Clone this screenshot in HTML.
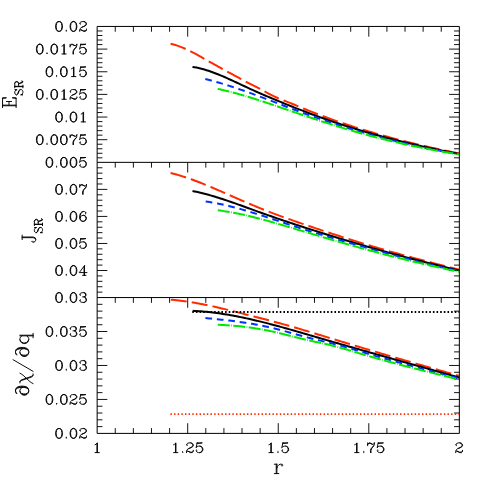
<!DOCTYPE html>
<html><head><meta charset="utf-8"><title>chart</title>
<style>html,body{margin:0;padding:0;background:#fff;font-family:"Liberation Serif",serif;overflow:hidden}svg{display:block;position:absolute;left:0;top:0}</style></head>
<body>
<svg width="485" height="485" viewBox="0 0 485 485">
<rect width="485" height="485" fill="#fff"/>
<path d="M97.15 157.82h5.3M459.35 157.82h-5.3 M97.15 153.29h5.3M459.35 153.29h-5.3 M97.15 148.76h5.3M459.35 148.76h-5.3 M97.15 144.23h5.3M459.35 144.23h-5.3 M97.15 139.7h10.2M459.35 139.7h-10.2 M97.15 135.17h5.3M459.35 135.17h-5.3 M97.15 130.64h5.3M459.35 130.64h-5.3 M97.15 126.11h5.3M459.35 126.11h-5.3 M97.15 121.58h5.3M459.35 121.58h-5.3 M97.15 117.05h10.2M459.35 117.05h-10.2 M97.15 112.52h5.3M459.35 112.52h-5.3 M97.15 107.99h5.3M459.35 107.99h-5.3 M97.15 103.46h5.3M459.35 103.46h-5.3 M97.15 98.93h5.3M459.35 98.93h-5.3 M97.15 94.4h10.2M459.35 94.4h-10.2 M97.15 89.87h5.3M459.35 89.87h-5.3 M97.15 85.34h5.3M459.35 85.34h-5.3 M97.15 80.81h5.3M459.35 80.81h-5.3 M97.15 76.28h5.3M459.35 76.28h-5.3 M97.15 71.75h10.2M459.35 71.75h-10.2 M97.15 67.22h5.3M459.35 67.22h-5.3 M97.15 62.69h5.3M459.35 62.69h-5.3 M97.15 58.16h5.3M459.35 58.16h-5.3 M97.15 53.63h5.3M459.35 53.63h-5.3 M97.15 49.1h10.2M459.35 49.1h-10.2 M97.15 44.57h5.3M459.35 44.57h-5.3 M97.15 40.04h5.3M459.35 40.04h-5.3 M97.15 35.51h5.3M459.35 35.51h-5.3 M97.15 30.98h5.3M459.35 30.98h-5.3 M97.15 292.14h5.3M459.35 292.14h-5.3 M97.15 286.73h5.3M459.35 286.73h-5.3 M97.15 281.33h5.3M459.35 281.33h-5.3 M97.15 275.92h5.3M459.35 275.92h-5.3 M97.15 270.51h10.2M459.35 270.51h-10.2 M97.15 265.1h5.3M459.35 265.1h-5.3 M97.15 259.69h5.3M459.35 259.69h-5.3 M97.15 254.29h5.3M459.35 254.29h-5.3 M97.15 248.88h5.3M459.35 248.88h-5.3 M97.15 243.47h10.2M459.35 243.47h-10.2 M97.15 238.06h5.3M459.35 238.06h-5.3 M97.15 232.65h5.3M459.35 232.65h-5.3 M97.15 227.25h5.3M459.35 227.25h-5.3 M97.15 221.84h5.3M459.35 221.84h-5.3 M97.15 216.43h10.2M459.35 216.43h-10.2 M97.15 211.02h5.3M459.35 211.02h-5.3 M97.15 205.61h5.3M459.35 205.61h-5.3 M97.15 200.21h5.3M459.35 200.21h-5.3 M97.15 194.8h5.3M459.35 194.8h-5.3 M97.15 189.39h10.2M459.35 189.39h-10.2 M97.15 183.98h5.3M459.35 183.98h-5.3 M97.15 178.57h5.3M459.35 178.57h-5.3 M97.15 173.17h5.3M459.35 173.17h-5.3 M97.15 167.76h5.3M459.35 167.76h-5.3 M97.15 426.61h5.3M459.35 426.61h-5.3 M97.15 419.81h5.3M459.35 419.81h-5.3 M97.15 413.02h5.3M459.35 413.02h-5.3 M97.15 406.23h5.3M459.35 406.23h-5.3 M97.15 399.44h10.2M459.35 399.44h-10.2 M97.15 392.64h5.3M459.35 392.64h-5.3 M97.15 385.85h5.3M459.35 385.85h-5.3 M97.15 379.06h5.3M459.35 379.06h-5.3 M97.15 372.27h5.3M459.35 372.27h-5.3 M97.15 365.48h10.2M459.35 365.48h-10.2 M97.15 358.68h5.3M459.35 358.68h-5.3 M97.15 351.89h5.3M459.35 351.89h-5.3 M97.15 345.1h5.3M459.35 345.1h-5.3 M97.15 338.31h5.3M459.35 338.31h-5.3 M97.15 331.51h10.2M459.35 331.51h-10.2 M97.15 324.72h5.3M459.35 324.72h-5.3 M97.15 317.93h5.3M459.35 317.93h-5.3 M97.15 311.13h5.3M459.35 311.13h-5.3 M97.15 304.34h5.3M459.35 304.34h-5.3 M115.26 26.45v5.3 M115.26 162.35v5.3 M115.26 297.55v5.3 M115.26 433.4v-5.3 M133.37 26.45v5.3 M133.37 162.35v5.3 M133.37 297.55v5.3 M133.37 433.4v-5.3 M151.48 26.45v5.3 M151.48 162.35v5.3 M151.48 297.55v5.3 M151.48 433.4v-5.3 M169.59 26.45v5.3 M169.59 162.35v5.3 M169.59 297.55v5.3 M169.59 433.4v-5.3 M187.7 26.45v10.2 M187.7 162.35v10.2 M187.7 297.55v10.2 M187.7 433.4v-10.2 M205.81 26.45v5.3 M205.81 162.35v5.3 M205.81 297.55v5.3 M205.81 433.4v-5.3 M223.92 26.45v5.3 M223.92 162.35v5.3 M223.92 297.55v5.3 M223.92 433.4v-5.3 M242.03 26.45v5.3 M242.03 162.35v5.3 M242.03 297.55v5.3 M242.03 433.4v-5.3 M260.14 26.45v5.3 M260.14 162.35v5.3 M260.14 297.55v5.3 M260.14 433.4v-5.3 M278.25 26.45v10.2 M278.25 162.35v10.2 M278.25 297.55v10.2 M278.25 433.4v-10.2 M296.36 26.45v5.3 M296.36 162.35v5.3 M296.36 297.55v5.3 M296.36 433.4v-5.3 M314.47 26.45v5.3 M314.47 162.35v5.3 M314.47 297.55v5.3 M314.47 433.4v-5.3 M332.58 26.45v5.3 M332.58 162.35v5.3 M332.58 297.55v5.3 M332.58 433.4v-5.3 M350.69 26.45v5.3 M350.69 162.35v5.3 M350.69 297.55v5.3 M350.69 433.4v-5.3 M368.8 26.45v10.2 M368.8 162.35v10.2 M368.8 297.55v10.2 M368.8 433.4v-10.2 M386.91 26.45v5.3 M386.91 162.35v5.3 M386.91 297.55v5.3 M386.91 433.4v-5.3 M405.02 26.45v5.3 M405.02 162.35v5.3 M405.02 297.55v5.3 M405.02 433.4v-5.3 M423.13 26.45v5.3 M423.13 162.35v5.3 M423.13 297.55v5.3 M423.13 433.4v-5.3 M441.24 26.45v5.3 M441.24 162.35v5.3 M441.24 297.55v5.3 M441.24 433.4v-5.3" stroke="#000" stroke-width="0.92" fill="none"/>
<path d="M97.15 26.45H459.35V433.4H97.15Z M97.15 162.35H459.35 M97.15 297.55H459.35" stroke="#000" stroke-width="1" fill="none" stroke-linejoin="round"/>
<clipPath id="c1"><rect x="97.15" y="26.45" width="362.20000000000005" height="135.9"/></clipPath>
<g clip-path="url(#c1)" fill="none" stroke-width="2.0">
<path d="M170.6 43.69 L172.6 44.19 L174.6 44.76 L176.6 45.4 L178.6 46.1 L180.6 46.85 L182.6 47.66 L184.6 48.52 L186.6 49.43 L188.6 50.37 L190.6 51.35 L192.6 52.37 L194.6 53.42 L196.6 54.49 L198.6 55.58 L200.6 56.69 L202.6 57.81 L204.6 58.94 L206.6 60.08 L208.6 61.21 L210.6 62.35 L212.6 63.48 L214.6 64.61 L216.6 65.73 L218.6 66.84 L220.6 67.95 L222.6 69.06 L224.6 70.15 L226.6 71.24 L228.6 72.32 L230.6 73.39 L232.6 74.46 L234.6 75.53 L236.6 76.61 L238.6 77.7 L240.6 78.8 L242.6 79.91 L244.6 81.03 L246.6 82.11 L248.6 83.14 L250.6 84.14 L252.6 85.11 L254.6 86.08 L256.6 87.06 L258.6 88.06 L260.6 89.12 L262.6 90.23 L264.6 91.36 L266.6 92.5 L268.6 93.61 L270.6 94.67 L272.6 95.67 L274.6 96.62 L276.6 97.51 L278.6 98.37 L280.6 99.19 L282.6 99.99 L284.6 100.78 L286.6 101.56 L288.6 102.35 L290.6 103.14 L292.6 103.96 L294.6 104.78 L296.6 105.62 L298.6 106.46 L300.6 107.29 L302.6 108.13 L304.6 108.95 L306.6 109.77 L308.6 110.57 L310.6 111.37 L312.6 112.17 L314.6 112.95 L316.6 113.73 L318.6 114.49 L320.6 115.26 L322.6 116.01 L324.6 116.75 L326.6 117.49 L328.6 118.22 L330.6 118.95 L332.6 119.66 L334.6 120.37 L336.6 121.07 L338.6 121.77 L340.6 122.46 L342.6 123.14 L344.6 123.81 L346.6 124.48 L348.6 125.14 L350.6 125.8 L352.6 126.44 L354.6 127.08 L356.6 127.72 L358.6 128.35 L360.6 128.97 L362.6 129.59 L364.6 130.2 L366.6 130.8 L368.6 131.4 L370.6 131.99 L372.6 132.58 L374.6 133.16 L376.6 133.74 L378.6 134.31 L380.6 134.87 L382.6 135.43 L384.6 135.98 L386.6 136.53 L388.6 137.08 L390.6 137.61 L392.6 138.15 L394.6 138.68 L396.6 139.2 L398.6 139.72 L400.6 140.23 L402.6 140.74 L404.6 141.24 L406.6 141.74 L408.6 142.24 L410.6 142.73 L412.6 143.22 L414.6 143.7 L416.6 144.18 L418.6 144.65 L420.6 145.12 L422.6 145.59 L424.6 146.05 L426.6 146.51 L428.6 146.97 L430.6 147.42 L432.6 147.86 L434.6 148.31 L436.6 148.75 L438.6 149.19 L440.6 149.62 L442.6 150.05 L444.6 150.48 L446.6 150.9 L448.6 151.33 L450.6 151.75 L452.6 152.16 L454.6 152.57 L456.6 152.99 L458.6 153.39 L459.3 153.54" stroke="#ff2a00" stroke-dasharray="16 5.1"/>
<path d="M192.5 66.9 L194.5 67.22 L196.5 67.6 L198.5 68.03 L200.5 68.5 L202.5 69.02 L204.5 69.58 L206.5 70.18 L208.5 70.82 L210.5 71.49 L212.5 72.2 L214.5 72.94 L216.5 73.71 L218.5 74.51 L220.5 75.33 L222.5 76.17 L224.5 77.03 L226.5 77.91 L228.5 78.81 L230.5 79.72 L232.5 80.64 L234.5 81.57 L236.5 82.5 L238.5 83.44 L240.5 84.39 L242.5 85.33 L244.5 86.27 L246.5 87.2 L248.5 88.13 L250.5 89.05 L252.5 89.96 L254.5 90.86 L256.5 91.75 L258.5 92.63 L260.5 93.5 L262.5 94.37 L264.5 95.23 L266.5 96.08 L268.5 96.93 L270.5 97.77 L272.5 98.61 L274.5 99.45 L276.5 100.28 L278.5 101.11 L280.5 101.93 L282.5 102.75 L284.5 103.56 L286.5 104.37 L288.5 105.18 L290.5 105.98 L292.5 106.77 L294.5 107.56 L296.5 108.35 L298.5 109.13 L300.5 109.9 L302.5 110.67 L304.5 111.44 L306.5 112.2 L308.5 112.95 L310.5 113.7 L312.5 114.44 L314.5 115.18 L316.5 115.91 L318.5 116.63 L320.5 117.35 L322.5 118.06 L324.5 118.77 L326.5 119.47 L328.5 120.16 L330.5 120.85 L332.5 121.53 L334.5 122.2 L336.5 122.87 L338.5 123.53 L340.5 124.19 L342.5 124.84 L344.5 125.48 L346.5 126.12 L348.5 126.75 L350.5 127.38 L352.5 127.99 L354.5 128.61 L356.5 129.22 L358.5 129.82 L360.5 130.41 L362.5 131 L364.5 131.59 L366.5 132.17 L368.5 132.74 L370.5 133.31 L372.5 133.87 L374.5 134.43 L376.5 134.98 L378.5 135.53 L380.5 136.07 L382.5 136.61 L384.5 137.14 L386.5 137.67 L388.5 138.19 L390.5 138.71 L392.5 139.22 L394.5 139.73 L396.5 140.23 L398.5 140.73 L400.5 141.22 L402.5 141.71 L404.5 142.2 L406.5 142.68 L408.5 143.15 L410.5 143.62 L412.5 144.09 L414.5 144.55 L416.5 145.01 L418.5 145.47 L420.5 145.92 L422.5 146.36 L424.5 146.81 L426.5 147.24 L428.5 147.68 L430.5 148.11 L432.5 148.54 L434.5 148.96 L436.5 149.38 L438.5 149.8 L440.5 150.21 L442.5 150.62 L444.5 151.03 L446.5 151.43 L448.5 151.83 L450.5 152.23 L452.5 152.62 L454.5 153.01 L456.5 153.4 L458.5 153.78 L459.3 153.93" stroke="#000"/>
<path d="M205.3 78.97 L207.3 79.47 L209.3 79.99 L211.3 80.53 L213.3 81.08 L215.3 81.64 L217.3 82.21 L219.3 82.79 L221.3 83.39 L223.3 83.99 L225.3 84.61 L227.3 85.23 L229.3 85.87 L231.3 86.52 L233.3 87.17 L235.3 87.83 L237.3 88.5 L239.3 89.18 L241.3 89.87 L243.3 90.56 L245.3 91.27 L247.3 91.97 L249.3 92.68 L251.3 93.4 L253.3 94.13 L255.3 94.85 L257.3 95.59 L259.3 96.33 L261.3 97.07 L263.3 97.82 L265.3 98.57 L267.3 99.33 L269.3 100.09 L271.3 100.85 L273.3 101.62 L275.3 102.39 L277.3 103.16 L279.3 103.93 L281.3 104.7 L283.3 105.47 L285.3 106.24 L287.3 107 L289.3 107.76 L291.3 108.52 L293.3 109.28 L295.3 110.03 L297.3 110.77 L299.3 111.52 L301.3 112.25 L303.3 112.99 L305.3 113.71 L307.3 114.44 L309.3 115.16 L311.3 115.87 L313.3 116.58 L315.3 117.28 L317.3 117.98 L319.3 118.68 L321.3 119.37 L323.3 120.05 L325.3 120.73 L327.3 121.41 L329.3 122.07 L331.3 122.74 L333.3 123.4 L335.3 124.05 L337.3 124.7 L339.3 125.34 L341.3 125.98 L343.3 126.61 L345.3 127.23 L347.3 127.85 L349.3 128.46 L351.3 129.07 L353.3 129.67 L355.3 130.27 L357.3 130.86 L359.3 131.45 L361.3 132.03 L363.3 132.6 L365.3 133.17 L367.3 133.73 L369.3 134.29 L371.3 134.84 L373.3 135.38 L375.3 135.92 L377.3 136.46 L379.3 136.99 L381.3 137.51 L383.3 138.03 L385.3 138.54 L387.3 139.05 L389.3 139.56 L391.3 140.05 L393.3 140.55 L395.3 141.03 L397.3 141.52 L399.3 141.99 L401.3 142.47 L403.3 142.93 L405.3 143.4 L407.3 143.85 L409.3 144.31 L411.3 144.76 L413.3 145.2 L415.3 145.64 L417.3 146.07 L419.3 146.5 L421.3 146.93 L423.3 147.35 L425.3 147.76 L427.3 148.17 L429.3 148.58 L431.3 148.98 L433.3 149.38 L435.3 149.77 L437.3 150.16 L439.3 150.54 L441.3 150.92 L443.3 151.3 L445.3 151.67 L447.3 152.04 L449.3 152.4 L451.3 152.76 L453.3 153.12 L455.3 153.47 L457.3 153.81 L459.3 154.16" stroke="#0033ff" stroke-dasharray="6.7 4.8"/>
<path d="M217.7 88.87 L219.7 89.3 L221.7 89.75 L223.7 90.21 L225.7 90.69 L227.7 91.18 L229.7 91.68 L231.7 92.19 L233.7 92.72 L235.7 93.26 L237.7 93.81 L239.7 94.37 L241.7 94.94 L243.7 95.52 L245.7 96.11 L247.7 96.71 L249.7 97.32 L251.7 97.94 L253.7 98.56 L255.7 99.2 L257.7 99.84 L259.7 100.48 L261.7 101.13 L263.7 101.79 L265.7 102.45 L267.7 103.12 L269.7 103.79 L271.7 104.46 L273.7 105.14 L275.7 105.82 L277.7 106.5 L279.7 107.18 L281.7 107.87 L283.7 108.55 L285.7 109.24 L287.7 109.92 L289.7 110.61 L291.7 111.29 L293.7 111.98 L295.7 112.66 L297.7 113.34 L299.7 114.02 L301.7 114.7 L303.7 115.37 L305.7 116.05 L307.7 116.72 L309.7 117.39 L311.7 118.05 L313.7 118.72 L315.7 119.38 L317.7 120.04 L319.7 120.69 L321.7 121.34 L323.7 121.99 L325.7 122.64 L327.7 123.28 L329.7 123.91 L331.7 124.55 L333.7 125.18 L335.7 125.8 L337.7 126.42 L339.7 127.04 L341.7 127.65 L343.7 128.26 L345.7 128.86 L347.7 129.46 L349.7 130.05 L351.7 130.63 L353.7 131.21 L355.7 131.79 L357.7 132.36 L359.7 132.92 L361.7 133.48 L363.7 134.03 L365.7 134.58 L367.7 135.13 L369.7 135.66 L371.7 136.19 L373.7 136.72 L375.7 137.24 L377.7 137.76 L379.7 138.27 L381.7 138.77 L383.7 139.28 L385.7 139.77 L387.7 140.26 L389.7 140.74 L391.7 141.22 L393.7 141.7 L395.7 142.17 L397.7 142.63 L399.7 143.09 L401.7 143.54 L403.7 143.99 L405.7 144.43 L407.7 144.87 L409.7 145.3 L411.7 145.73 L413.7 146.15 L415.7 146.57 L417.7 146.98 L419.7 147.39 L421.7 147.79 L423.7 148.19 L425.7 148.58 L427.7 148.97 L429.7 149.35 L431.7 149.73 L433.7 150.1 L435.7 150.47 L437.7 150.83 L439.7 151.19 L441.7 151.54 L443.7 151.89 L445.7 152.23 L447.7 152.57 L449.7 152.9 L451.7 153.23 L453.7 153.55 L455.7 153.87 L457.7 154.18 L459.3 154.43" stroke="#00ea00" stroke-dasharray="12 1.4 0.7 1.4"/>
</g>
<clipPath id="c2"><rect x="97.15" y="162.35" width="362.20000000000005" height="135.20000000000002"/></clipPath>
<g clip-path="url(#c2)" fill="none" stroke-width="2.0">
<path d="M170.6 173.01 L172.6 173.5 L174.6 174.02 L176.6 174.57 L178.6 175.14 L180.6 175.73 L182.6 176.35 L184.6 176.99 L186.6 177.65 L188.6 178.33 L190.6 179.03 L192.6 179.75 L194.6 180.49 L196.6 181.24 L198.6 182.01 L200.6 182.8 L202.6 183.59 L204.6 184.4 L206.6 185.22 L208.6 186.05 L210.6 186.89 L212.6 187.74 L214.6 188.59 L216.6 189.46 L218.6 190.32 L220.6 191.2 L222.6 192.07 L224.6 192.95 L226.6 193.83 L228.6 194.71 L230.6 195.59 L232.6 196.47 L234.6 197.34 L236.6 198.22 L238.6 199.09 L240.6 199.96 L242.6 200.82 L244.6 201.68 L246.6 202.54 L248.6 203.39 L250.6 204.24 L252.6 205.08 L254.6 205.92 L256.6 206.75 L258.6 207.57 L260.6 208.39 L262.6 209.2 L264.6 210 L266.6 210.79 L268.6 211.58 L270.6 212.35 L272.6 213.12 L274.6 213.88 L276.6 214.63 L278.6 215.37 L280.6 216.1 L282.6 216.83 L284.6 217.55 L286.6 218.27 L288.6 218.98 L290.6 219.68 L292.6 220.38 L294.6 221.08 L296.6 221.77 L298.6 222.46 L300.6 223.15 L302.6 223.83 L304.6 224.52 L306.6 225.2 L308.6 225.88 L310.6 226.56 L312.6 227.23 L314.6 227.9 L316.6 228.58 L318.6 229.24 L320.6 229.91 L322.6 230.58 L324.6 231.24 L326.6 231.9 L328.6 232.56 L330.6 233.21 L332.6 233.87 L334.6 234.52 L336.6 235.17 L338.6 235.81 L340.6 236.46 L342.6 237.1 L344.6 237.73 L346.6 238.37 L348.6 239 L350.6 239.63 L352.6 240.26 L354.6 240.88 L356.6 241.51 L358.6 242.12 L360.6 242.74 L362.6 243.35 L364.6 243.96 L366.6 244.57 L368.6 245.17 L370.6 245.77 L372.6 246.37 L374.6 246.96 L376.6 247.55 L378.6 248.14 L380.6 248.73 L382.6 249.31 L384.6 249.88 L386.6 250.46 L388.6 251.03 L390.6 251.59 L392.6 252.16 L394.6 252.72 L396.6 253.28 L398.6 253.83 L400.6 254.38 L402.6 254.93 L404.6 255.47 L406.6 256.02 L408.6 256.56 L410.6 257.09 L412.6 257.63 L414.6 258.16 L416.6 258.69 L418.6 259.22 L420.6 259.74 L422.6 260.27 L424.6 260.79 L426.6 261.31 L428.6 261.83 L430.6 262.34 L432.6 262.86 L434.6 263.37 L436.6 263.88 L438.6 264.39 L440.6 264.9 L442.6 265.4 L444.6 265.91 L446.6 266.41 L448.6 266.92 L450.6 267.42 L452.6 267.92 L454.6 268.42 L456.6 268.92 L458.6 269.42 L459.3 269.59" stroke="#ff2a00" stroke-dasharray="16 5.1"/>
<path d="M192.5 191 L194.5 191.41 L196.5 191.83 L198.5 192.28 L200.5 192.75 L202.5 193.24 L204.5 193.75 L206.5 194.28 L208.5 194.83 L210.5 195.39 L212.5 195.97 L214.5 196.56 L216.5 197.17 L218.5 197.79 L220.5 198.43 L222.5 199.07 L224.5 199.73 L226.5 200.4 L228.5 201.08 L230.5 201.76 L232.5 202.45 L234.5 203.16 L236.5 203.86 L238.5 204.58 L240.5 205.29 L242.5 206.01 L244.5 206.74 L246.5 207.46 L248.5 208.19 L250.5 208.92 L252.5 209.65 L254.5 210.37 L256.5 211.1 L258.5 211.82 L260.5 212.54 L262.5 213.25 L264.5 213.97 L266.5 214.67 L268.5 215.38 L270.5 216.07 L272.5 216.77 L274.5 217.46 L276.5 218.15 L278.5 218.84 L280.5 219.52 L282.5 220.2 L284.5 220.87 L286.5 221.54 L288.5 222.21 L290.5 222.88 L292.5 223.54 L294.5 224.2 L296.5 224.86 L298.5 225.51 L300.5 226.16 L302.5 226.81 L304.5 227.46 L306.5 228.11 L308.5 228.75 L310.5 229.39 L312.5 230.03 L314.5 230.66 L316.5 231.29 L318.5 231.93 L320.5 232.55 L322.5 233.18 L324.5 233.81 L326.5 234.43 L328.5 235.05 L330.5 235.67 L332.5 236.28 L334.5 236.89 L336.5 237.51 L338.5 238.11 L340.5 238.72 L342.5 239.33 L344.5 239.93 L346.5 240.53 L348.5 241.12 L350.5 241.72 L352.5 242.31 L354.5 242.9 L356.5 243.49 L358.5 244.08 L360.5 244.66 L362.5 245.24 L364.5 245.82 L366.5 246.4 L368.5 246.97 L370.5 247.54 L372.5 248.11 L374.5 248.68 L376.5 249.25 L378.5 249.81 L380.5 250.37 L382.5 250.93 L384.5 251.48 L386.5 252.04 L388.5 252.59 L390.5 253.13 L392.5 253.68 L394.5 254.22 L396.5 254.76 L398.5 255.3 L400.5 255.84 L402.5 256.37 L404.5 256.9 L406.5 257.43 L408.5 257.96 L410.5 258.48 L412.5 259.01 L414.5 259.52 L416.5 260.04 L418.5 260.56 L420.5 261.07 L422.5 261.58 L424.5 262.08 L426.5 262.59 L428.5 263.09 L430.5 263.59 L432.5 264.09 L434.5 264.58 L436.5 265.07 L438.5 265.56 L440.5 266.05 L442.5 266.53 L444.5 267.01 L446.5 267.49 L448.5 267.97 L450.5 268.44 L452.5 268.91 L454.5 269.38 L456.5 269.85 L458.5 270.31 L459.3 270.5" stroke="#000"/>
<path d="M205.7 201.49 L207.7 201.78 L209.7 202.09 L211.7 202.41 L213.7 202.76 L215.7 203.13 L217.7 203.51 L219.7 203.92 L221.7 204.34 L223.7 204.78 L225.7 205.23 L227.7 205.7 L229.7 206.19 L231.7 206.69 L233.7 207.2 L235.7 207.73 L237.7 208.27 L239.7 208.82 L241.7 209.39 L243.7 209.96 L245.7 210.55 L247.7 211.14 L249.7 211.75 L251.7 212.36 L253.7 212.98 L255.7 213.61 L257.7 214.24 L259.7 214.88 L261.7 215.52 L263.7 216.17 L265.7 216.83 L267.7 217.48 L269.7 218.14 L271.7 218.81 L273.7 219.47 L275.7 220.14 L277.7 220.8 L279.7 221.47 L281.7 222.13 L283.7 222.79 L285.7 223.46 L287.7 224.12 L289.7 224.77 L291.7 225.43 L293.7 226.08 L295.7 226.73 L297.7 227.38 L299.7 228.02 L301.7 228.66 L303.7 229.29 L305.7 229.92 L307.7 230.55 L309.7 231.17 L311.7 231.79 L313.7 232.41 L315.7 233.02 L317.7 233.62 L319.7 234.23 L321.7 234.83 L323.7 235.43 L325.7 236.02 L327.7 236.61 L329.7 237.2 L331.7 237.79 L333.7 238.37 L335.7 238.95 L337.7 239.53 L339.7 240.11 L341.7 240.68 L343.7 241.25 L345.7 241.82 L347.7 242.39 L349.7 242.96 L351.7 243.52 L353.7 244.08 L355.7 244.65 L357.7 245.21 L359.7 245.77 L361.7 246.33 L363.7 246.88 L365.7 247.44 L367.7 248 L369.7 248.55 L371.7 249.11 L373.7 249.66 L375.7 250.21 L377.7 250.76 L379.7 251.31 L381.7 251.85 L383.7 252.4 L385.7 252.94 L387.7 253.49 L389.7 254.03 L391.7 254.56 L393.7 255.1 L395.7 255.63 L397.7 256.16 L399.7 256.69 L401.7 257.22 L403.7 257.75 L405.7 258.27 L407.7 258.79 L409.7 259.31 L411.7 259.82 L413.7 260.33 L415.7 260.84 L417.7 261.35 L419.7 261.85 L421.7 262.35 L423.7 262.85 L425.7 263.34 L427.7 263.83 L429.7 264.32 L431.7 264.8 L433.7 265.28 L435.7 265.76 L437.7 266.23 L439.7 266.7 L441.7 267.16 L443.7 267.63 L445.7 268.08 L447.7 268.54 L449.7 268.99 L451.7 269.43 L453.7 269.87 L455.7 270.31 L457.7 270.74 L459.3 271.08" stroke="#0033ff" stroke-dasharray="6.7 4.8"/>
<path d="M217.8 210.36 L219.8 210.59 L221.8 210.85 L223.8 211.12 L225.8 211.42 L227.8 211.73 L229.8 212.06 L231.8 212.4 L233.8 212.77 L235.8 213.15 L237.8 213.54 L239.8 213.95 L241.8 214.37 L243.8 214.81 L245.8 215.26 L247.8 215.72 L249.8 216.19 L251.8 216.68 L253.8 217.18 L255.8 217.68 L257.8 218.2 L259.8 218.72 L261.8 219.26 L263.8 219.8 L265.8 220.35 L267.8 220.91 L269.8 221.47 L271.8 222.04 L273.8 222.61 L275.8 223.19 L277.8 223.77 L279.8 224.36 L281.8 224.95 L283.8 225.54 L285.8 226.14 L287.8 226.73 L289.8 227.33 L291.8 227.92 L293.8 228.52 L295.8 229.12 L297.8 229.71 L299.8 230.31 L301.8 230.9 L303.8 231.5 L305.8 232.09 L307.8 232.69 L309.8 233.28 L311.8 233.88 L313.8 234.47 L315.8 235.06 L317.8 235.65 L319.8 236.24 L321.8 236.83 L323.8 237.42 L325.8 238 L327.8 238.59 L329.8 239.17 L331.8 239.75 L333.8 240.34 L335.8 240.91 L337.8 241.49 L339.8 242.07 L341.8 242.64 L343.8 243.21 L345.8 243.78 L347.8 244.35 L349.8 244.92 L351.8 245.48 L353.8 246.04 L355.8 246.6 L357.8 247.15 L359.8 247.71 L361.8 248.26 L363.8 248.81 L365.8 249.36 L367.8 249.9 L369.8 250.44 L371.8 250.98 L373.8 251.52 L375.8 252.05 L377.8 252.58 L379.8 253.11 L381.8 253.64 L383.8 254.16 L385.8 254.68 L387.8 255.2 L389.8 255.72 L391.8 256.23 L393.8 256.74 L395.8 257.25 L397.8 257.75 L399.8 258.26 L401.8 258.76 L403.8 259.25 L405.8 259.75 L407.8 260.24 L409.8 260.73 L411.8 261.21 L413.8 261.69 L415.8 262.17 L417.8 262.65 L419.8 263.12 L421.8 263.59 L423.8 264.06 L425.8 264.53 L427.8 264.99 L429.8 265.45 L431.8 265.9 L433.8 266.35 L435.8 266.8 L437.8 267.25 L439.8 267.69 L441.8 268.13 L443.8 268.57 L445.8 269 L447.8 269.43 L449.8 269.86 L451.8 270.28 L453.8 270.7 L455.8 271.12 L457.8 271.53 L459.3 271.84" stroke="#00ea00" stroke-dasharray="12 1.4 0.7 1.4"/>
</g>
<clipPath id="c3"><rect x="97.15" y="297.55" width="362.20000000000005" height="135.84999999999997"/></clipPath>
<g clip-path="url(#c3)" fill="none" stroke-width="2.0">
<path d="M170.8 299.65 L172.8 299.84 L174.8 300.04 L176.8 300.26 L178.8 300.5 L180.8 300.74 L182.8 301 L184.8 301.27 L186.8 301.56 L188.8 301.86 L190.8 302.17 L192.8 302.49 L194.8 302.83 L196.8 303.18 L198.8 303.54 L200.8 303.91 L202.8 304.29 L204.8 304.68 L206.8 305.09 L208.8 305.5 L210.8 305.92 L212.8 306.36 L214.8 306.8 L216.8 307.26 L218.8 307.72 L220.8 308.19 L222.8 308.67 L224.8 309.15 L226.8 309.64 L228.8 310.13 L230.8 310.63 L232.8 311.13 L234.8 311.63 L236.8 312.14 L238.8 312.64 L240.8 313.15 L242.8 313.65 L244.8 314.16 L246.8 314.67 L248.8 315.17 L250.8 315.68 L252.8 316.19 L254.8 316.7 L256.8 317.21 L258.8 317.73 L260.8 318.24 L262.8 318.76 L264.8 319.28 L266.8 319.8 L268.8 320.32 L270.8 320.85 L272.8 321.38 L274.8 321.92 L276.8 322.45 L278.8 322.99 L280.8 323.54 L282.8 324.09 L284.8 324.64 L286.8 325.2 L288.8 325.76 L290.8 326.33 L292.8 326.91 L294.8 327.48 L296.8 328.07 L298.8 328.65 L300.8 329.24 L302.8 329.84 L304.8 330.43 L306.8 331.03 L308.8 331.63 L310.8 332.24 L312.8 332.84 L314.8 333.45 L316.8 334.06 L318.8 334.67 L320.8 335.28 L322.8 335.89 L324.8 336.5 L326.8 337.11 L328.8 337.72 L330.8 338.33 L332.8 338.94 L334.8 339.55 L336.8 340.15 L338.8 340.76 L340.8 341.37 L342.8 341.97 L344.8 342.58 L346.8 343.18 L348.8 343.78 L350.8 344.39 L352.8 344.99 L354.8 345.59 L356.8 346.19 L358.8 346.79 L360.8 347.39 L362.8 347.99 L364.8 348.59 L366.8 349.18 L368.8 349.78 L370.8 350.38 L372.8 350.97 L374.8 351.56 L376.8 352.16 L378.8 352.75 L380.8 353.34 L382.8 353.93 L384.8 354.52 L386.8 355.11 L388.8 355.7 L390.8 356.29 L392.8 356.87 L394.8 357.46 L396.8 358.05 L398.8 358.63 L400.8 359.21 L402.8 359.79 L404.8 360.38 L406.8 360.96 L408.8 361.54 L410.8 362.11 L412.8 362.69 L414.8 363.27 L416.8 363.84 L418.8 364.42 L420.8 364.99 L422.8 365.57 L424.8 366.14 L426.8 366.71 L428.8 367.28 L430.8 367.85 L432.8 368.41 L434.8 368.98 L436.8 369.55 L438.8 370.11 L440.8 370.67 L442.8 371.24 L444.8 371.8 L446.8 372.36 L448.8 372.92 L450.8 373.47 L452.8 374.03 L454.8 374.59 L456.8 375.14 L458.8 375.7 L459.3 375.83" stroke="#ff2a00" stroke-dasharray="16 5.1"/>
<path d="M192.7 310.8 L194.7 310.9 L196.7 311.02 L198.7 311.15 L200.7 311.3 L202.7 311.46 L204.7 311.64 L206.7 311.84 L208.7 312.05 L210.7 312.27 L212.7 312.51 L214.7 312.76 L216.7 313.02 L218.7 313.3 L220.7 313.58 L222.7 313.89 L224.7 314.2 L226.7 314.53 L228.7 314.86 L230.7 315.21 L232.7 315.57 L234.7 315.94 L236.7 316.32 L238.7 316.72 L240.7 317.12 L242.7 317.53 L244.7 317.95 L246.7 318.38 L248.7 318.82 L250.7 319.27 L252.7 319.73 L254.7 320.19 L256.7 320.66 L258.7 321.15 L260.7 321.63 L262.7 322.13 L264.7 322.63 L266.7 323.14 L268.7 323.65 L270.7 324.17 L272.7 324.7 L274.7 325.23 L276.7 325.77 L278.7 326.31 L280.7 326.86 L282.7 327.41 L284.7 327.96 L286.7 328.52 L288.7 329.09 L290.7 329.65 L292.7 330.22 L294.7 330.79 L296.7 331.37 L298.7 331.94 L300.7 332.52 L302.7 333.1 L304.7 333.68 L306.7 334.27 L308.7 334.85 L310.7 335.43 L312.7 336.02 L314.7 336.6 L316.7 337.19 L318.7 337.77 L320.7 338.36 L322.7 338.94 L324.7 339.52 L326.7 340.1 L328.7 340.68 L330.7 341.26 L332.7 341.84 L334.7 342.42 L336.7 342.99 L338.7 343.57 L340.7 344.14 L342.7 344.72 L344.7 345.29 L346.7 345.87 L348.7 346.44 L350.7 347.01 L352.7 347.58 L354.7 348.15 L356.7 348.72 L358.7 349.29 L360.7 349.86 L362.7 350.43 L364.7 350.99 L366.7 351.56 L368.7 352.13 L370.7 352.69 L372.7 353.26 L374.7 353.82 L376.7 354.39 L378.7 354.95 L380.7 355.52 L382.7 356.08 L384.7 356.64 L386.7 357.2 L388.7 357.77 L390.7 358.33 L392.7 358.89 L394.7 359.45 L396.7 360.01 L398.7 360.57 L400.7 361.13 L402.7 361.69 L404.7 362.25 L406.7 362.81 L408.7 363.37 L410.7 363.93 L412.7 364.49 L414.7 365.05 L416.7 365.61 L418.7 366.17 L420.7 366.72 L422.7 367.28 L424.7 367.84 L426.7 368.4 L428.7 368.96 L430.7 369.52 L432.7 370.07 L434.7 370.63 L436.7 371.19 L438.7 371.75 L440.7 372.31 L442.7 372.87 L444.7 373.42 L446.7 373.98 L448.7 374.54 L450.7 375.1 L452.7 375.66 L454.7 376.22 L456.7 376.78 L458.7 377.34 L459.3 377.51" stroke="#000"/>
<path d="M205.4 318.01 L207.4 318.2 L209.4 318.39 L211.4 318.59 L213.4 318.79 L215.4 318.99 L217.4 319.2 L219.4 319.42 L221.4 319.64 L223.4 319.86 L225.4 320.09 L227.4 320.32 L229.4 320.57 L231.4 320.81 L233.4 321.07 L235.4 321.33 L237.4 321.6 L239.4 321.88 L241.4 322.17 L243.4 322.47 L245.4 322.77 L247.4 323.09 L249.4 323.41 L251.4 323.75 L253.4 324.09 L255.4 324.45 L257.4 324.82 L259.4 325.2 L261.4 325.59 L263.4 325.99 L265.4 326.41 L267.4 326.84 L269.4 327.28 L271.4 327.74 L273.4 328.21 L275.4 328.7 L277.4 329.2 L279.4 329.72 L281.4 330.25 L283.4 330.79 L285.4 331.35 L287.4 331.91 L289.4 332.47 L291.4 333.03 L293.4 333.59 L295.4 334.15 L297.4 334.7 L299.4 335.25 L301.4 335.79 L303.4 336.33 L305.4 336.86 L307.4 337.39 L309.4 337.91 L311.4 338.42 L313.4 338.92 L315.4 339.42 L317.4 339.91 L319.4 340.39 L321.4 340.87 L323.4 341.35 L325.4 341.83 L327.4 342.31 L329.4 342.8 L331.4 343.29 L333.4 343.79 L335.4 344.29 L337.4 344.81 L339.4 345.35 L341.4 345.89 L343.4 346.45 L345.4 347.02 L347.4 347.59 L349.4 348.18 L351.4 348.77 L353.4 349.36 L355.4 349.96 L357.4 350.56 L359.4 351.16 L361.4 351.75 L363.4 352.35 L365.4 352.94 L367.4 353.53 L369.4 354.12 L371.4 354.7 L373.4 355.28 L375.4 355.86 L377.4 356.44 L379.4 357.01 L381.4 357.58 L383.4 358.15 L385.4 358.72 L387.4 359.28 L389.4 359.84 L391.4 360.4 L393.4 360.96 L395.4 361.52 L397.4 362.07 L399.4 362.62 L401.4 363.17 L403.4 363.72 L405.4 364.26 L407.4 364.81 L409.4 365.35 L411.4 365.89 L413.4 366.43 L415.4 366.97 L417.4 367.5 L419.4 368.04 L421.4 368.57 L423.4 369.11 L425.4 369.64 L427.4 370.17 L429.4 370.7 L431.4 371.22 L433.4 371.75 L435.4 372.28 L437.4 372.8 L439.4 373.33 L441.4 373.85 L443.4 374.37 L445.4 374.9 L447.4 375.42 L449.4 375.94 L451.4 376.46 L453.4 376.98 L455.4 377.5 L457.4 378.02 L459.3 378.51" stroke="#0033ff" stroke-dasharray="6.7 4.8"/>
<path d="M217.8 324.72 L219.8 324.8 L221.8 324.91 L223.8 325.02 L225.8 325.14 L227.8 325.27 L229.8 325.42 L231.8 325.57 L233.8 325.74 L235.8 325.92 L237.8 326.12 L239.8 326.32 L241.8 326.54 L243.8 326.77 L245.8 327.01 L247.8 327.26 L249.8 327.53 L251.8 327.81 L253.8 328.1 L255.8 328.41 L257.8 328.73 L259.8 329.06 L261.8 329.41 L263.8 329.77 L265.8 330.15 L267.8 330.54 L269.8 330.94 L271.8 331.36 L273.8 331.79 L275.8 332.24 L277.8 332.7 L279.8 333.18 L281.8 333.67 L283.8 334.17 L285.8 334.69 L287.8 335.21 L289.8 335.73 L291.8 336.26 L293.8 336.78 L295.8 337.3 L297.8 337.82 L299.8 338.32 L301.8 338.81 L303.8 339.28 L305.8 339.74 L307.8 340.19 L309.8 340.63 L311.8 341.06 L313.8 341.49 L315.8 341.91 L317.8 342.34 L319.8 342.77 L321.8 343.2 L323.8 343.65 L325.8 344.1 L327.8 344.56 L329.8 345.04 L331.8 345.53 L333.8 346.04 L335.8 346.56 L337.8 347.09 L339.8 347.63 L341.8 348.19 L343.8 348.75 L345.8 349.33 L347.8 349.91 L349.8 350.5 L351.8 351.09 L353.8 351.69 L355.8 352.28 L357.8 352.88 L359.8 353.48 L361.8 354.07 L363.8 354.67 L365.8 355.25 L367.8 355.84 L369.8 356.41 L371.8 356.99 L373.8 357.56 L375.8 358.13 L377.8 358.69 L379.8 359.25 L381.8 359.81 L383.8 360.36 L385.8 360.91 L387.8 361.46 L389.8 362 L391.8 362.54 L393.8 363.08 L395.8 363.62 L397.8 364.15 L399.8 364.68 L401.8 365.21 L403.8 365.73 L405.8 366.25 L407.8 366.77 L409.8 367.29 L411.8 367.8 L413.8 368.32 L415.8 368.83 L417.8 369.34 L419.8 369.84 L421.8 370.35 L423.8 370.85 L425.8 371.36 L427.8 371.86 L429.8 372.36 L431.8 372.85 L433.8 373.35 L435.8 373.85 L437.8 374.34 L439.8 374.83 L441.8 375.33 L443.8 375.82 L445.8 376.31 L447.8 376.8 L449.8 377.29 L451.8 377.78 L453.8 378.26 L455.8 378.75 L457.8 379.24 L459.3 379.61" stroke="#00ea00" stroke-dasharray="12 1.4 0.7 1.4"/>
<path d="M192.25 312.0 H459.35" stroke="#000" stroke-width="2" stroke-dasharray="1.6 2.046"/>
<path d="M170.38 414.2 H459.35" stroke="#ff2a00" stroke-width="1.75" stroke-dasharray="1.45 2.196"/>
</g>
<path d="M48.94 157.5 L47.5 157.96 L46.53 159.35 L46.05 161.66 L46.05 163.04 L46.53 165.35 L47.5 166.74 L48.94 167.2 L49.9 167.2 L51.34 166.74 L52.31 165.35 L52.79 163.04 L52.79 161.66 L52.31 159.35 L51.34 157.96 L49.9 157.5 L48.94 157.5 M48.94 157.5 L47.98 157.96 L47.5 158.42 L47.02 159.35 L46.53 161.66 L46.53 163.04 L47.02 165.35 L47.5 166.28 L47.98 166.74 L48.94 167.2 M49.9 167.2 L50.86 166.74 L51.34 166.28 L51.83 165.35 L52.31 163.04 L52.31 161.66 L51.83 159.35 L51.34 158.42 L50.86 157.96 L49.9 157.5 M56.64 166.28 L56.15 166.74 L56.64 167.2 L57.12 166.74 L56.64 166.28 M63.37 157.5 L61.93 157.96 L60.96 159.35 L60.48 161.66 L60.48 163.04 L60.96 165.35 L61.93 166.74 L63.37 167.2 L64.33 167.2 L65.77 166.74 L66.74 165.35 L67.22 163.04 L67.22 161.66 L66.74 159.35 L65.77 157.96 L64.33 157.5 L63.37 157.5 M63.37 157.5 L62.41 157.96 L61.93 158.42 L61.45 159.35 L60.96 161.66 L60.96 163.04 L61.45 165.35 L61.93 166.28 L62.41 166.74 L63.37 167.2 M64.33 167.2 L65.29 166.74 L65.77 166.28 L66.26 165.35 L66.74 163.04 L66.74 161.66 L66.26 159.35 L65.77 158.42 L65.29 157.96 L64.33 157.5 M72.99 157.5 L71.55 157.96 L70.58 159.35 L70.1 161.66 L70.1 163.04 L70.58 165.35 L71.55 166.74 L72.99 167.2 L73.95 167.2 L75.39 166.74 L76.36 165.35 L76.84 163.04 L76.84 161.66 L76.36 159.35 L75.39 157.96 L73.95 157.5 L72.99 157.5 M72.99 157.5 L72.03 157.96 L71.55 158.42 L71.07 159.35 L70.58 161.66 L70.58 163.04 L71.07 165.35 L71.55 166.28 L72.03 166.74 L72.99 167.2 M73.95 167.2 L74.91 166.74 L75.39 166.28 L75.88 165.35 L76.36 163.04 L76.36 161.66 L75.88 159.35 L75.39 158.42 L74.91 157.96 L73.95 157.5 M80.69 157.5 L79.72 162.12 M79.72 162.12 L80.69 161.19 L82.13 160.73 L83.57 160.73 L85.01 161.19 L85.98 162.12 L86.46 163.5 L86.46 164.43 L85.98 165.81 L85.01 166.74 L83.57 167.2 L82.13 167.2 L80.69 166.74 L80.2 166.28 L79.72 165.35 L79.72 164.89 L80.2 164.43 L80.69 164.89 L80.2 165.35 M83.57 160.73 L84.53 161.19 L85.5 162.12 L85.98 163.5 L85.98 164.43 L85.5 165.81 L84.53 166.74 L83.57 167.2 M80.69 157.5 L85.5 157.5 M80.69 157.96 L83.09 157.96 L85.5 157.5 M39.32 134.85 L37.88 135.31 L36.91 136.7 L36.43 139.01 L36.43 140.39 L36.91 142.7 L37.88 144.09 L39.32 144.55 L40.28 144.55 L41.72 144.09 L42.69 142.7 L43.17 140.39 L43.17 139.01 L42.69 136.7 L41.72 135.31 L40.28 134.85 L39.32 134.85 M39.32 134.85 L38.36 135.31 L37.88 135.77 L37.4 136.7 L36.91 139.01 L36.91 140.39 L37.4 142.7 L37.88 143.63 L38.36 144.09 L39.32 144.55 M40.28 144.55 L41.24 144.09 L41.72 143.63 L42.21 142.7 L42.69 140.39 L42.69 139.01 L42.21 136.7 L41.72 135.77 L41.24 135.31 L40.28 134.85 M47.02 143.63 L46.53 144.09 L47.02 144.55 L47.5 144.09 L47.02 143.63 M53.75 134.85 L52.31 135.31 L51.34 136.7 L50.86 139.01 L50.86 140.39 L51.34 142.7 L52.31 144.09 L53.75 144.55 L54.71 144.55 L56.15 144.09 L57.12 142.7 L57.6 140.39 L57.6 139.01 L57.12 136.7 L56.15 135.31 L54.71 134.85 L53.75 134.85 M53.75 134.85 L52.79 135.31 L52.31 135.77 L51.83 136.7 L51.34 139.01 L51.34 140.39 L51.83 142.7 L52.31 143.63 L52.79 144.09 L53.75 144.55 M54.71 144.55 L55.67 144.09 L56.15 143.63 L56.64 142.7 L57.12 140.39 L57.12 139.01 L56.64 136.7 L56.15 135.77 L55.67 135.31 L54.71 134.85 M63.37 134.85 L61.93 135.31 L60.96 136.7 L60.48 139.01 L60.48 140.39 L60.96 142.7 L61.93 144.09 L63.37 144.55 L64.33 144.55 L65.77 144.09 L66.74 142.7 L67.22 140.39 L67.22 139.01 L66.74 136.7 L65.77 135.31 L64.33 134.85 L63.37 134.85 M63.37 134.85 L62.41 135.31 L61.93 135.77 L61.45 136.7 L60.96 139.01 L60.96 140.39 L61.45 142.7 L61.93 143.63 L62.41 144.09 L63.37 144.55 M64.33 144.55 L65.29 144.09 L65.77 143.63 L66.26 142.7 L66.74 140.39 L66.74 139.01 L66.26 136.7 L65.77 135.77 L65.29 135.31 L64.33 134.85 M70.1 134.85 L70.1 137.62 M70.1 136.7 L70.58 135.77 L71.55 134.85 L72.51 134.85 L74.91 136.23 L75.88 136.23 L76.36 135.77 L76.84 134.85 M70.58 135.77 L71.55 135.31 L72.51 135.31 L74.91 136.23 M76.84 134.85 L76.84 136.23 L76.36 137.62 L74.43 139.93 L73.95 140.85 L73.47 142.24 L73.47 144.55 M76.36 137.62 L73.95 139.93 L73.47 140.85 L72.99 142.24 L72.99 144.55 M80.69 134.85 L79.72 139.47 M79.72 139.47 L80.69 138.54 L82.13 138.08 L83.57 138.08 L85.01 138.54 L85.98 139.47 L86.46 140.85 L86.46 141.78 L85.98 143.16 L85.01 144.09 L83.57 144.55 L82.13 144.55 L80.69 144.09 L80.2 143.63 L79.72 142.7 L79.72 142.24 L80.2 141.78 L80.69 142.24 L80.2 142.7 M83.57 138.08 L84.53 138.54 L85.5 139.47 L85.98 140.85 L85.98 141.78 L85.5 143.16 L84.53 144.09 L83.57 144.55 M80.69 134.85 L85.5 134.85 M80.69 135.31 L83.09 135.31 L85.5 134.85 M58.56 112.2 L57.12 112.66 L56.15 114.05 L55.67 116.36 L55.67 117.74 L56.15 120.05 L57.12 121.44 L58.56 121.9 L59.52 121.9 L60.96 121.44 L61.93 120.05 L62.41 117.74 L62.41 116.36 L61.93 114.05 L60.96 112.66 L59.52 112.2 L58.56 112.2 M58.56 112.2 L57.6 112.66 L57.12 113.12 L56.64 114.05 L56.15 116.36 L56.15 117.74 L56.64 120.05 L57.12 120.98 L57.6 121.44 L58.56 121.9 M59.52 121.9 L60.48 121.44 L60.96 120.98 L61.45 120.05 L61.93 117.74 L61.93 116.36 L61.45 114.05 L60.96 113.12 L60.48 112.66 L59.52 112.2 M66.25 120.98 L65.77 121.44 L66.25 121.9 L66.74 121.44 L66.25 120.98 M72.99 112.2 L71.55 112.66 L70.58 114.05 L70.1 116.36 L70.1 117.74 L70.58 120.05 L71.55 121.44 L72.99 121.9 L73.95 121.9 L75.39 121.44 L76.36 120.05 L76.84 117.74 L76.84 116.36 L76.36 114.05 L75.39 112.66 L73.95 112.2 L72.99 112.2 M72.99 112.2 L72.03 112.66 L71.55 113.12 L71.06 114.05 L70.58 116.36 L70.58 117.74 L71.06 120.05 L71.55 120.98 L72.03 121.44 L72.99 121.9 M73.95 121.9 L74.91 121.44 L75.39 120.98 L75.88 120.05 L76.36 117.74 L76.36 116.36 L75.88 114.05 L75.39 113.12 L74.91 112.66 L73.95 112.2 M81.17 114.05 L82.13 113.58 L83.57 112.2 L83.57 121.9 M83.09 112.66 L83.09 121.9 M81.17 121.9 L85.5 121.9 M39.32 89.55 L37.88 90.01 L36.91 91.4 L36.43 93.71 L36.43 95.09 L36.91 97.4 L37.88 98.79 L39.32 99.25 L40.28 99.25 L41.72 98.79 L42.69 97.4 L43.17 95.09 L43.17 93.71 L42.69 91.4 L41.72 90.01 L40.28 89.55 L39.32 89.55 M39.32 89.55 L38.36 90.01 L37.88 90.47 L37.4 91.4 L36.91 93.71 L36.91 95.09 L37.4 97.4 L37.88 98.33 L38.36 98.79 L39.32 99.25 M40.28 99.25 L41.24 98.79 L41.72 98.33 L42.21 97.4 L42.69 95.09 L42.69 93.71 L42.21 91.4 L41.72 90.47 L41.24 90.01 L40.28 89.55 M47.02 98.33 L46.53 98.79 L47.02 99.25 L47.5 98.79 L47.02 98.33 M53.75 89.55 L52.31 90.01 L51.34 91.4 L50.86 93.71 L50.86 95.09 L51.34 97.4 L52.31 98.79 L53.75 99.25 L54.71 99.25 L56.15 98.79 L57.12 97.4 L57.6 95.09 L57.6 93.71 L57.12 91.4 L56.15 90.01 L54.71 89.55 L53.75 89.55 M53.75 89.55 L52.79 90.01 L52.31 90.47 L51.83 91.4 L51.34 93.71 L51.34 95.09 L51.83 97.4 L52.31 98.33 L52.79 98.79 L53.75 99.25 M54.71 99.25 L55.67 98.79 L56.15 98.33 L56.64 97.4 L57.12 95.09 L57.12 93.71 L56.64 91.4 L56.15 90.47 L55.67 90.01 L54.71 89.55 M61.93 91.4 L62.89 90.93 L64.33 89.55 L64.33 99.25 M63.85 90.01 L63.85 99.25 M61.93 99.25 L66.26 99.25 M70.58 91.4 L71.07 91.86 L70.58 92.32 L70.1 91.86 L70.1 91.4 L70.58 90.47 L71.07 90.01 L72.51 89.55 L74.43 89.55 L75.88 90.01 L76.36 90.47 L76.84 91.4 L76.84 92.32 L76.36 93.24 L74.91 94.17 L72.51 95.09 L71.55 95.55 L70.58 96.48 L70.1 97.86 L70.1 99.25 M74.43 89.55 L75.39 90.01 L75.88 90.47 L76.36 91.4 L76.36 92.32 L75.88 93.24 L74.43 94.17 L72.51 95.09 M70.1 98.33 L70.58 97.86 L71.55 97.86 L73.95 98.79 L75.39 98.79 L76.36 98.33 L76.84 97.86 M71.55 97.86 L73.95 99.25 L75.88 99.25 L76.36 98.79 L76.84 97.86 L76.84 96.94 M80.69 89.55 L79.72 94.17 M79.72 94.17 L80.69 93.24 L82.13 92.78 L83.57 92.78 L85.01 93.24 L85.98 94.17 L86.46 95.55 L86.46 96.48 L85.98 97.86 L85.01 98.79 L83.57 99.25 L82.13 99.25 L80.69 98.79 L80.2 98.33 L79.72 97.4 L79.72 96.94 L80.2 96.48 L80.69 96.94 L80.2 97.4 M83.57 92.78 L84.53 93.24 L85.5 94.17 L85.98 95.55 L85.98 96.48 L85.5 97.86 L84.53 98.79 L83.57 99.25 M80.69 89.55 L85.5 89.55 M80.69 90.01 L83.09 90.01 L85.5 89.55 M48.94 66.9 L47.5 67.36 L46.53 68.75 L46.05 71.06 L46.05 72.44 L46.53 74.75 L47.5 76.14 L48.94 76.6 L49.9 76.6 L51.34 76.14 L52.31 74.75 L52.79 72.44 L52.79 71.06 L52.31 68.75 L51.34 67.36 L49.9 66.9 L48.94 66.9 M48.94 66.9 L47.98 67.36 L47.5 67.82 L47.02 68.75 L46.53 71.06 L46.53 72.44 L47.02 74.75 L47.5 75.68 L47.98 76.14 L48.94 76.6 M49.9 76.6 L50.86 76.14 L51.34 75.68 L51.83 74.75 L52.31 72.44 L52.31 71.06 L51.83 68.75 L51.34 67.82 L50.86 67.36 L49.9 66.9 M56.64 75.68 L56.15 76.14 L56.64 76.6 L57.12 76.14 L56.64 75.68 M63.37 66.9 L61.93 67.36 L60.96 68.75 L60.48 71.06 L60.48 72.44 L60.96 74.75 L61.93 76.14 L63.37 76.6 L64.33 76.6 L65.77 76.14 L66.74 74.75 L67.22 72.44 L67.22 71.06 L66.74 68.75 L65.77 67.36 L64.33 66.9 L63.37 66.9 M63.37 66.9 L62.41 67.36 L61.93 67.82 L61.45 68.75 L60.96 71.06 L60.96 72.44 L61.45 74.75 L61.93 75.68 L62.41 76.14 L63.37 76.6 M64.33 76.6 L65.29 76.14 L65.77 75.68 L66.26 74.75 L66.74 72.44 L66.74 71.06 L66.26 68.75 L65.77 67.82 L65.29 67.36 L64.33 66.9 M71.55 68.75 L72.51 68.28 L73.95 66.9 L73.95 76.6 M73.47 67.36 L73.47 76.6 M71.55 76.6 L75.88 76.6 M80.69 66.9 L79.72 71.52 M79.72 71.52 L80.69 70.59 L82.13 70.13 L83.57 70.13 L85.01 70.59 L85.98 71.52 L86.46 72.9 L86.46 73.83 L85.98 75.21 L85.01 76.14 L83.57 76.6 L82.13 76.6 L80.69 76.14 L80.2 75.68 L79.72 74.75 L79.72 74.29 L80.2 73.83 L80.69 74.29 L80.2 74.75 M83.57 70.13 L84.53 70.59 L85.5 71.52 L85.98 72.9 L85.98 73.83 L85.5 75.21 L84.53 76.14 L83.57 76.6 M80.69 66.9 L85.5 66.9 M80.69 67.36 L83.09 67.36 L85.5 66.9 M39.32 44.25 L37.88 44.71 L36.91 46.1 L36.43 48.41 L36.43 49.79 L36.91 52.1 L37.88 53.49 L39.32 53.95 L40.28 53.95 L41.72 53.49 L42.69 52.1 L43.17 49.79 L43.17 48.41 L42.69 46.1 L41.72 44.71 L40.28 44.25 L39.32 44.25 M39.32 44.25 L38.36 44.71 L37.88 45.17 L37.4 46.1 L36.91 48.41 L36.91 49.79 L37.4 52.1 L37.88 53.03 L38.36 53.49 L39.32 53.95 M40.28 53.95 L41.24 53.49 L41.72 53.03 L42.21 52.1 L42.69 49.79 L42.69 48.41 L42.21 46.1 L41.72 45.17 L41.24 44.71 L40.28 44.25 M47.02 53.03 L46.53 53.49 L47.02 53.95 L47.5 53.49 L47.02 53.03 M53.75 44.25 L52.31 44.71 L51.34 46.1 L50.86 48.41 L50.86 49.79 L51.34 52.1 L52.31 53.49 L53.75 53.95 L54.71 53.95 L56.15 53.49 L57.12 52.1 L57.6 49.79 L57.6 48.41 L57.12 46.1 L56.15 44.71 L54.71 44.25 L53.75 44.25 M53.75 44.25 L52.79 44.71 L52.31 45.17 L51.83 46.1 L51.34 48.41 L51.34 49.79 L51.83 52.1 L52.31 53.03 L52.79 53.49 L53.75 53.95 M54.71 53.95 L55.67 53.49 L56.15 53.03 L56.64 52.1 L57.12 49.79 L57.12 48.41 L56.64 46.1 L56.15 45.17 L55.67 44.71 L54.71 44.25 M61.93 46.1 L62.89 45.63 L64.33 44.25 L64.33 53.95 M63.85 44.71 L63.85 53.95 M61.93 53.95 L66.26 53.95 M70.1 44.25 L70.1 47.02 M70.1 46.1 L70.58 45.17 L71.55 44.25 L72.51 44.25 L74.91 45.63 L75.88 45.63 L76.36 45.17 L76.84 44.25 M70.58 45.17 L71.55 44.71 L72.51 44.71 L74.91 45.63 M76.84 44.25 L76.84 45.63 L76.36 47.02 L74.43 49.33 L73.95 50.25 L73.47 51.64 L73.47 53.95 M76.36 47.02 L73.95 49.33 L73.47 50.25 L72.99 51.64 L72.99 53.95 M80.69 44.25 L79.72 48.87 M79.72 48.87 L80.69 47.94 L82.13 47.48 L83.57 47.48 L85.01 47.94 L85.98 48.87 L86.46 50.25 L86.46 51.18 L85.98 52.56 L85.01 53.49 L83.57 53.95 L82.13 53.95 L80.69 53.49 L80.2 53.03 L79.72 52.1 L79.72 51.64 L80.2 51.18 L80.69 51.64 L80.2 52.1 M83.57 47.48 L84.53 47.94 L85.5 48.87 L85.98 50.25 L85.98 51.18 L85.5 52.56 L84.53 53.49 L83.57 53.95 M80.69 44.25 L85.5 44.25 M80.69 44.71 L83.09 44.71 L85.5 44.25 M58.56 21.6 L57.12 22.06 L56.15 23.45 L55.67 25.76 L55.67 27.14 L56.15 29.45 L57.12 30.84 L58.56 31.3 L59.52 31.3 L60.96 30.84 L61.93 29.45 L62.41 27.14 L62.41 25.76 L61.93 23.45 L60.96 22.06 L59.52 21.6 L58.56 21.6 M58.56 21.6 L57.6 22.06 L57.12 22.52 L56.64 23.45 L56.15 25.76 L56.15 27.14 L56.64 29.45 L57.12 30.38 L57.6 30.84 L58.56 31.3 M59.52 31.3 L60.48 30.84 L60.96 30.38 L61.45 29.45 L61.93 27.14 L61.93 25.76 L61.45 23.45 L60.96 22.52 L60.48 22.06 L59.52 21.6 M66.25 30.38 L65.77 30.84 L66.25 31.3 L66.74 30.84 L66.25 30.38 M72.99 21.6 L71.55 22.06 L70.58 23.45 L70.1 25.76 L70.1 27.14 L70.58 29.45 L71.55 30.84 L72.99 31.3 L73.95 31.3 L75.39 30.84 L76.36 29.45 L76.84 27.14 L76.84 25.76 L76.36 23.45 L75.39 22.06 L73.95 21.6 L72.99 21.6 M72.99 21.6 L72.03 22.06 L71.55 22.52 L71.06 23.45 L70.58 25.76 L70.58 27.14 L71.06 29.45 L71.55 30.38 L72.03 30.84 L72.99 31.3 M73.95 31.3 L74.91 30.84 L75.39 30.38 L75.88 29.45 L76.36 27.14 L76.36 25.76 L75.88 23.45 L75.39 22.52 L74.91 22.06 L73.95 21.6 M80.2 23.45 L80.69 23.91 L80.2 24.37 L79.72 23.91 L79.72 23.45 L80.2 22.52 L80.69 22.06 L82.13 21.6 L84.05 21.6 L85.5 22.06 L85.98 22.52 L86.46 23.45 L86.46 24.37 L85.98 25.29 L84.53 26.22 L82.13 27.14 L81.17 27.6 L80.2 28.53 L79.72 29.91 L79.72 31.3 M84.05 21.6 L85.01 22.06 L85.5 22.52 L85.98 23.45 L85.98 24.37 L85.5 25.29 L84.05 26.22 L82.13 27.14 M79.72 30.38 L80.2 29.91 L81.17 29.91 L83.57 30.84 L85.01 30.84 L85.98 30.38 L86.46 29.91 M81.17 29.91 L83.57 31.3 L85.5 31.3 L85.98 30.84 L86.46 29.91 L86.46 28.99 M58.56 292.7 L57.12 293.16 L56.15 294.55 L55.67 296.86 L55.67 298.24 L56.15 300.55 L57.12 301.94 L58.56 302.4 L59.52 302.4 L60.96 301.94 L61.93 300.55 L62.41 298.24 L62.41 296.86 L61.93 294.55 L60.96 293.16 L59.52 292.7 L58.56 292.7 M58.56 292.7 L57.6 293.16 L57.12 293.62 L56.64 294.55 L56.15 296.86 L56.15 298.24 L56.64 300.55 L57.12 301.48 L57.6 301.94 L58.56 302.4 M59.52 302.4 L60.48 301.94 L60.96 301.48 L61.45 300.55 L61.93 298.24 L61.93 296.86 L61.45 294.55 L60.96 293.62 L60.48 293.16 L59.52 292.7 M66.25 301.48 L65.77 301.94 L66.25 302.4 L66.74 301.94 L66.25 301.48 M72.99 292.7 L71.55 293.16 L70.58 294.55 L70.1 296.86 L70.1 298.24 L70.58 300.55 L71.55 301.94 L72.99 302.4 L73.95 302.4 L75.39 301.94 L76.36 300.55 L76.84 298.24 L76.84 296.86 L76.36 294.55 L75.39 293.16 L73.95 292.7 L72.99 292.7 M72.99 292.7 L72.03 293.16 L71.55 293.62 L71.06 294.55 L70.58 296.86 L70.58 298.24 L71.06 300.55 L71.55 301.48 L72.03 301.94 L72.99 302.4 M73.95 302.4 L74.91 301.94 L75.39 301.48 L75.88 300.55 L76.36 298.24 L76.36 296.86 L75.88 294.55 L75.39 293.62 L74.91 293.16 L73.95 292.7 M80.2 294.55 L80.69 295.01 L80.2 295.47 L79.72 295.01 L79.72 294.55 L80.2 293.62 L80.69 293.16 L82.13 292.7 L84.05 292.7 L85.5 293.16 L85.98 294.09 L85.98 295.47 L85.5 296.39 L84.05 296.86 L82.61 296.86 M84.05 292.7 L85.01 293.16 L85.5 294.09 L85.5 295.47 L85.01 296.39 L84.05 296.86 M84.05 296.86 L85.01 297.32 L85.98 298.24 L86.46 299.17 L86.46 300.55 L85.98 301.48 L85.5 301.94 L84.05 302.4 L82.13 302.4 L80.69 301.94 L80.2 301.48 L79.72 300.55 L79.72 300.09 L80.2 299.63 L80.69 300.09 L80.2 300.55 M85.5 297.78 L85.98 299.17 L85.98 300.55 L85.5 301.48 L85.01 301.94 L84.05 302.4 M58.56 265.66 L57.12 266.12 L56.15 267.51 L55.67 269.82 L55.67 271.2 L56.15 273.51 L57.12 274.9 L58.56 275.36 L59.52 275.36 L60.96 274.9 L61.93 273.51 L62.41 271.2 L62.41 269.82 L61.93 267.51 L60.96 266.12 L59.52 265.66 L58.56 265.66 M58.56 265.66 L57.6 266.12 L57.12 266.58 L56.64 267.51 L56.15 269.82 L56.15 271.2 L56.64 273.51 L57.12 274.44 L57.6 274.9 L58.56 275.36 M59.52 275.36 L60.48 274.9 L60.96 274.44 L61.45 273.51 L61.93 271.2 L61.93 269.82 L61.45 267.51 L60.96 266.58 L60.48 266.12 L59.52 265.66 M66.25 274.44 L65.77 274.9 L66.25 275.36 L66.74 274.9 L66.25 274.44 M72.99 265.66 L71.55 266.12 L70.58 267.51 L70.1 269.82 L70.1 271.2 L70.58 273.51 L71.55 274.9 L72.99 275.36 L73.95 275.36 L75.39 274.9 L76.36 273.51 L76.84 271.2 L76.84 269.82 L76.36 267.51 L75.39 266.12 L73.95 265.66 L72.99 265.66 M72.99 265.66 L72.03 266.12 L71.55 266.58 L71.06 267.51 L70.58 269.82 L70.58 271.2 L71.06 273.51 L71.55 274.44 L72.03 274.9 L72.99 275.36 M73.95 275.36 L74.91 274.9 L75.39 274.44 L75.88 273.51 L76.36 271.2 L76.36 269.82 L75.88 267.51 L75.39 266.58 L74.91 266.12 L73.95 265.66 M84.05 266.58 L84.05 275.36 M84.53 265.66 L84.53 275.36 M84.53 265.66 L79.24 272.59 L86.94 272.59 M82.61 275.36 L85.98 275.36 M58.56 238.62 L57.12 239.08 L56.15 240.47 L55.67 242.78 L55.67 244.16 L56.15 246.47 L57.12 247.86 L58.56 248.32 L59.52 248.32 L60.96 247.86 L61.93 246.47 L62.41 244.16 L62.41 242.78 L61.93 240.47 L60.96 239.08 L59.52 238.62 L58.56 238.62 M58.56 238.62 L57.6 239.08 L57.12 239.54 L56.64 240.47 L56.15 242.78 L56.15 244.16 L56.64 246.47 L57.12 247.4 L57.6 247.86 L58.56 248.32 M59.52 248.32 L60.48 247.86 L60.96 247.4 L61.45 246.47 L61.93 244.16 L61.93 242.78 L61.45 240.47 L60.96 239.54 L60.48 239.08 L59.52 238.62 M66.25 247.4 L65.77 247.86 L66.25 248.32 L66.74 247.86 L66.25 247.4 M72.99 238.62 L71.55 239.08 L70.58 240.47 L70.1 242.78 L70.1 244.16 L70.58 246.47 L71.55 247.86 L72.99 248.32 L73.95 248.32 L75.39 247.86 L76.36 246.47 L76.84 244.16 L76.84 242.78 L76.36 240.47 L75.39 239.08 L73.95 238.62 L72.99 238.62 M72.99 238.62 L72.03 239.08 L71.55 239.54 L71.06 240.47 L70.58 242.78 L70.58 244.16 L71.06 246.47 L71.55 247.4 L72.03 247.86 L72.99 248.32 M73.95 248.32 L74.91 247.86 L75.39 247.4 L75.88 246.47 L76.36 244.16 L76.36 242.78 L75.88 240.47 L75.39 239.54 L74.91 239.08 L73.95 238.62 M80.69 238.62 L79.72 243.24 M79.72 243.24 L80.69 242.31 L82.13 241.85 L83.57 241.85 L85.01 242.31 L85.98 243.24 L86.46 244.62 L86.46 245.55 L85.98 246.94 L85.01 247.86 L83.57 248.32 L82.13 248.32 L80.69 247.86 L80.2 247.4 L79.72 246.47 L79.72 246.01 L80.2 245.55 L80.69 246.01 L80.2 246.47 M83.57 241.85 L84.53 242.31 L85.5 243.24 L85.98 244.62 L85.98 245.55 L85.5 246.94 L84.53 247.86 L83.57 248.32 M80.69 238.62 L85.5 238.62 M80.69 239.08 L83.09 239.08 L85.5 238.62 M58.56 211.58 L57.12 212.04 L56.15 213.43 L55.67 215.74 L55.67 217.12 L56.15 219.43 L57.12 220.82 L58.56 221.28 L59.52 221.28 L60.96 220.82 L61.93 219.43 L62.41 217.12 L62.41 215.74 L61.93 213.43 L60.96 212.04 L59.52 211.58 L58.56 211.58 M58.56 211.58 L57.6 212.04 L57.12 212.5 L56.64 213.43 L56.15 215.74 L56.15 217.12 L56.64 219.43 L57.12 220.36 L57.6 220.82 L58.56 221.28 M59.52 221.28 L60.48 220.82 L60.96 220.36 L61.45 219.43 L61.93 217.12 L61.93 215.74 L61.45 213.43 L60.96 212.5 L60.48 212.04 L59.52 211.58 M66.25 220.36 L65.77 220.82 L66.25 221.28 L66.74 220.82 L66.25 220.36 M72.99 211.58 L71.55 212.04 L70.58 213.43 L70.1 215.74 L70.1 217.12 L70.58 219.43 L71.55 220.82 L72.99 221.28 L73.95 221.28 L75.39 220.82 L76.36 219.43 L76.84 217.12 L76.84 215.74 L76.36 213.43 L75.39 212.04 L73.95 211.58 L72.99 211.58 M72.99 211.58 L72.03 212.04 L71.55 212.5 L71.06 213.43 L70.58 215.74 L70.58 217.12 L71.06 219.43 L71.55 220.36 L72.03 220.82 L72.99 221.28 M73.95 221.28 L74.91 220.82 L75.39 220.36 L75.88 219.43 L76.36 217.12 L76.36 215.74 L75.88 213.43 L75.39 212.5 L74.91 212.04 L73.95 211.58 M85.5 212.97 L85.01 213.43 L85.5 213.89 L85.98 213.43 L85.98 212.97 L85.5 212.04 L84.53 211.58 L83.09 211.58 L81.65 212.04 L80.69 212.97 L80.2 213.89 L79.72 215.74 L79.72 218.51 L80.2 219.9 L81.17 220.82 L82.61 221.28 L83.57 221.28 L85.01 220.82 L85.98 219.9 L86.46 218.51 L86.46 218.05 L85.98 216.66 L85.01 215.74 L83.57 215.28 L83.09 215.28 L81.65 215.74 L80.69 216.66 L80.2 218.05 M83.09 211.58 L82.13 212.04 L81.17 212.97 L80.69 213.89 L80.2 215.74 L80.2 218.51 L80.69 219.9 L81.65 220.82 L82.61 221.28 M83.57 221.28 L84.53 220.82 L85.5 219.9 L85.98 218.51 L85.98 218.05 L85.5 216.66 L84.53 215.74 L83.57 215.28 M58.56 184.54 L57.12 185 L56.15 186.39 L55.67 188.7 L55.67 190.08 L56.15 192.39 L57.12 193.78 L58.56 194.24 L59.52 194.24 L60.96 193.78 L61.93 192.39 L62.41 190.08 L62.41 188.7 L61.93 186.39 L60.96 185 L59.52 184.54 L58.56 184.54 M58.56 184.54 L57.6 185 L57.12 185.46 L56.64 186.39 L56.15 188.7 L56.15 190.08 L56.64 192.39 L57.12 193.32 L57.6 193.78 L58.56 194.24 M59.52 194.24 L60.48 193.78 L60.96 193.32 L61.45 192.39 L61.93 190.08 L61.93 188.7 L61.45 186.39 L60.96 185.46 L60.48 185 L59.52 184.54 M66.25 193.32 L65.77 193.78 L66.25 194.24 L66.74 193.78 L66.25 193.32 M72.99 184.54 L71.55 185 L70.58 186.39 L70.1 188.7 L70.1 190.08 L70.58 192.39 L71.55 193.78 L72.99 194.24 L73.95 194.24 L75.39 193.78 L76.36 192.39 L76.84 190.08 L76.84 188.7 L76.36 186.39 L75.39 185 L73.95 184.54 L72.99 184.54 M72.99 184.54 L72.03 185 L71.55 185.46 L71.06 186.39 L70.58 188.7 L70.58 190.08 L71.06 192.39 L71.55 193.32 L72.03 193.78 L72.99 194.24 M73.95 194.24 L74.91 193.78 L75.39 193.32 L75.88 192.39 L76.36 190.08 L76.36 188.7 L75.88 186.39 L75.39 185.46 L74.91 185 L73.95 184.54 M79.72 184.54 L79.72 187.31 M79.72 186.39 L80.2 185.46 L81.17 184.54 L82.13 184.54 L84.53 185.92 L85.5 185.92 L85.98 185.46 L86.46 184.54 M80.2 185.46 L81.17 185 L82.13 185 L84.53 185.92 M86.46 184.54 L86.46 185.92 L85.98 187.31 L84.05 189.62 L83.57 190.54 L83.09 191.93 L83.09 194.24 M85.98 187.31 L83.57 189.62 L83.09 190.54 L82.61 191.93 L82.61 194.24 M58.56 428.55 L57.12 429.01 L56.15 430.4 L55.67 432.71 L55.67 434.09 L56.15 436.4 L57.12 437.79 L58.56 438.25 L59.52 438.25 L60.96 437.79 L61.93 436.4 L62.41 434.09 L62.41 432.71 L61.93 430.4 L60.96 429.01 L59.52 428.55 L58.56 428.55 M58.56 428.55 L57.6 429.01 L57.12 429.47 L56.64 430.4 L56.15 432.71 L56.15 434.09 L56.64 436.4 L57.12 437.33 L57.6 437.79 L58.56 438.25 M59.52 438.25 L60.48 437.79 L60.96 437.33 L61.45 436.4 L61.93 434.09 L61.93 432.71 L61.45 430.4 L60.96 429.47 L60.48 429.01 L59.52 428.55 M66.25 437.33 L65.77 437.79 L66.25 438.25 L66.74 437.79 L66.25 437.33 M72.99 428.55 L71.55 429.01 L70.58 430.4 L70.1 432.71 L70.1 434.09 L70.58 436.4 L71.55 437.79 L72.99 438.25 L73.95 438.25 L75.39 437.79 L76.36 436.4 L76.84 434.09 L76.84 432.71 L76.36 430.4 L75.39 429.01 L73.95 428.55 L72.99 428.55 M72.99 428.55 L72.03 429.01 L71.55 429.47 L71.06 430.4 L70.58 432.71 L70.58 434.09 L71.06 436.4 L71.55 437.33 L72.03 437.79 L72.99 438.25 M73.95 438.25 L74.91 437.79 L75.39 437.33 L75.88 436.4 L76.36 434.09 L76.36 432.71 L75.88 430.4 L75.39 429.47 L74.91 429.01 L73.95 428.55 M80.2 430.4 L80.69 430.86 L80.2 431.32 L79.72 430.86 L79.72 430.4 L80.2 429.47 L80.69 429.01 L82.13 428.55 L84.05 428.55 L85.5 429.01 L85.98 429.47 L86.46 430.4 L86.46 431.32 L85.98 432.25 L84.53 433.17 L82.13 434.09 L81.17 434.55 L80.2 435.48 L79.72 436.86 L79.72 438.25 M84.05 428.55 L85.01 429.01 L85.5 429.47 L85.98 430.4 L85.98 431.32 L85.5 432.25 L84.05 433.17 L82.13 434.09 M79.72 437.33 L80.2 436.86 L81.17 436.86 L83.57 437.79 L85.01 437.79 L85.98 437.33 L86.46 436.86 M81.17 436.86 L83.57 438.25 L85.5 438.25 L85.98 437.79 L86.46 436.86 L86.46 435.94 M48.94 394.59 L47.5 395.05 L46.53 396.43 L46.05 398.74 L46.05 400.13 L46.53 402.44 L47.5 403.83 L48.94 404.29 L49.9 404.29 L51.34 403.83 L52.31 402.44 L52.79 400.13 L52.79 398.74 L52.31 396.43 L51.34 395.05 L49.9 394.59 L48.94 394.59 M48.94 394.59 L47.98 395.05 L47.5 395.51 L47.02 396.43 L46.53 398.74 L46.53 400.13 L47.02 402.44 L47.5 403.36 L47.98 403.83 L48.94 404.29 M49.9 404.29 L50.86 403.83 L51.34 403.36 L51.83 402.44 L52.31 400.13 L52.31 398.74 L51.83 396.43 L51.34 395.51 L50.86 395.05 L49.9 394.59 M56.64 403.36 L56.15 403.83 L56.64 404.29 L57.12 403.83 L56.64 403.36 M63.37 394.59 L61.93 395.05 L60.96 396.43 L60.48 398.74 L60.48 400.13 L60.96 402.44 L61.93 403.83 L63.37 404.29 L64.33 404.29 L65.77 403.83 L66.74 402.44 L67.22 400.13 L67.22 398.74 L66.74 396.43 L65.77 395.05 L64.33 394.59 L63.37 394.59 M63.37 394.59 L62.41 395.05 L61.93 395.51 L61.45 396.43 L60.96 398.74 L60.96 400.13 L61.45 402.44 L61.93 403.36 L62.41 403.83 L63.37 404.29 M64.33 404.29 L65.29 403.83 L65.77 403.36 L66.26 402.44 L66.74 400.13 L66.74 398.74 L66.26 396.43 L65.77 395.51 L65.29 395.05 L64.33 394.59 M70.58 396.43 L71.07 396.9 L70.58 397.36 L70.1 396.9 L70.1 396.43 L70.58 395.51 L71.07 395.05 L72.51 394.59 L74.43 394.59 L75.88 395.05 L76.36 395.51 L76.84 396.43 L76.84 397.36 L76.36 398.28 L74.91 399.21 L72.51 400.13 L71.55 400.59 L70.58 401.52 L70.1 402.9 L70.1 404.29 M74.43 394.59 L75.39 395.05 L75.88 395.51 L76.36 396.43 L76.36 397.36 L75.88 398.28 L74.43 399.21 L72.51 400.13 M70.1 403.36 L70.58 402.9 L71.55 402.9 L73.95 403.83 L75.39 403.83 L76.36 403.36 L76.84 402.9 M71.55 402.9 L73.95 404.29 L75.88 404.29 L76.36 403.83 L76.84 402.9 L76.84 401.98 M80.69 394.59 L79.72 399.21 M79.72 399.21 L80.69 398.28 L82.13 397.82 L83.57 397.82 L85.01 398.28 L85.98 399.21 L86.46 400.59 L86.46 401.52 L85.98 402.9 L85.01 403.83 L83.57 404.29 L82.13 404.29 L80.69 403.83 L80.2 403.36 L79.72 402.44 L79.72 401.98 L80.2 401.52 L80.69 401.98 L80.2 402.44 M83.57 397.82 L84.53 398.28 L85.5 399.21 L85.98 400.59 L85.98 401.52 L85.5 402.9 L84.53 403.83 L83.57 404.29 M80.69 394.59 L85.5 394.59 M80.69 395.05 L83.09 395.05 L85.5 394.59 M58.56 360.62 L57.12 361.09 L56.15 362.47 L55.67 364.78 L55.67 366.17 L56.15 368.48 L57.12 369.86 L58.56 370.33 L59.52 370.33 L60.96 369.86 L61.93 368.48 L62.41 366.17 L62.41 364.78 L61.93 362.47 L60.96 361.09 L59.52 360.62 L58.56 360.62 M58.56 360.62 L57.6 361.09 L57.12 361.55 L56.64 362.47 L56.15 364.78 L56.15 366.17 L56.64 368.48 L57.12 369.4 L57.6 369.86 L58.56 370.33 M59.52 370.33 L60.48 369.86 L60.96 369.4 L61.45 368.48 L61.93 366.17 L61.93 364.78 L61.45 362.47 L60.96 361.55 L60.48 361.09 L59.52 360.62 M66.25 369.4 L65.77 369.86 L66.25 370.33 L66.74 369.86 L66.25 369.4 M72.99 360.62 L71.55 361.09 L70.58 362.47 L70.1 364.78 L70.1 366.17 L70.58 368.48 L71.55 369.86 L72.99 370.33 L73.95 370.33 L75.39 369.86 L76.36 368.48 L76.84 366.17 L76.84 364.78 L76.36 362.47 L75.39 361.09 L73.95 360.62 L72.99 360.62 M72.99 360.62 L72.03 361.09 L71.55 361.55 L71.06 362.47 L70.58 364.78 L70.58 366.17 L71.06 368.48 L71.55 369.4 L72.03 369.86 L72.99 370.33 M73.95 370.33 L74.91 369.86 L75.39 369.4 L75.88 368.48 L76.36 366.17 L76.36 364.78 L75.88 362.47 L75.39 361.55 L74.91 361.09 L73.95 360.62 M80.2 362.47 L80.69 362.93 L80.2 363.4 L79.72 362.93 L79.72 362.47 L80.2 361.55 L80.69 361.09 L82.13 360.62 L84.05 360.62 L85.5 361.09 L85.98 362.01 L85.98 363.4 L85.5 364.32 L84.05 364.78 L82.61 364.78 M84.05 360.62 L85.01 361.09 L85.5 362.01 L85.5 363.4 L85.01 364.32 L84.05 364.78 M84.05 364.78 L85.01 365.24 L85.98 366.17 L86.46 367.09 L86.46 368.48 L85.98 369.4 L85.5 369.86 L84.05 370.33 L82.13 370.33 L80.69 369.86 L80.2 369.4 L79.72 368.48 L79.72 368.02 L80.2 367.55 L80.69 368.02 L80.2 368.48 M85.5 365.71 L85.98 367.09 L85.98 368.48 L85.5 369.4 L85.01 369.86 L84.05 370.33 M48.94 326.66 L47.5 327.12 L46.53 328.51 L46.05 330.82 L46.05 332.21 L46.53 334.52 L47.5 335.9 L48.94 336.36 L49.9 336.36 L51.34 335.9 L52.31 334.52 L52.79 332.21 L52.79 330.82 L52.31 328.51 L51.34 327.12 L49.9 326.66 L48.94 326.66 M48.94 326.66 L47.98 327.12 L47.5 327.59 L47.02 328.51 L46.53 330.82 L46.53 332.21 L47.02 334.52 L47.5 335.44 L47.98 335.9 L48.94 336.36 M49.9 336.36 L50.86 335.9 L51.34 335.44 L51.83 334.52 L52.31 332.21 L52.31 330.82 L51.83 328.51 L51.34 327.59 L50.86 327.12 L49.9 326.66 M56.64 335.44 L56.15 335.9 L56.64 336.36 L57.12 335.9 L56.64 335.44 M63.37 326.66 L61.93 327.12 L60.96 328.51 L60.48 330.82 L60.48 332.21 L60.96 334.52 L61.93 335.9 L63.37 336.36 L64.33 336.36 L65.77 335.9 L66.74 334.52 L67.22 332.21 L67.22 330.82 L66.74 328.51 L65.77 327.12 L64.33 326.66 L63.37 326.66 M63.37 326.66 L62.41 327.12 L61.93 327.59 L61.45 328.51 L60.96 330.82 L60.96 332.21 L61.45 334.52 L61.93 335.44 L62.41 335.9 L63.37 336.36 M64.33 336.36 L65.29 335.9 L65.77 335.44 L66.26 334.52 L66.74 332.21 L66.74 330.82 L66.26 328.51 L65.77 327.59 L65.29 327.12 L64.33 326.66 M70.58 328.51 L71.07 328.97 L70.58 329.43 L70.1 328.97 L70.1 328.51 L70.58 327.59 L71.07 327.12 L72.51 326.66 L74.43 326.66 L75.88 327.12 L76.36 328.05 L76.36 329.43 L75.88 330.36 L74.43 330.82 L72.99 330.82 M74.43 326.66 L75.39 327.12 L75.88 328.05 L75.88 329.43 L75.39 330.36 L74.43 330.82 M74.43 330.82 L75.39 331.28 L76.36 332.21 L76.84 333.13 L76.84 334.52 L76.36 335.44 L75.88 335.9 L74.43 336.36 L72.51 336.36 L71.07 335.9 L70.58 335.44 L70.1 334.52 L70.1 334.05 L70.58 333.59 L71.07 334.05 L70.58 334.52 M75.88 331.74 L76.36 333.13 L76.36 334.52 L75.88 335.44 L75.39 335.9 L74.43 336.36 M80.69 326.66 L79.72 331.28 M79.72 331.28 L80.69 330.36 L82.13 329.9 L83.57 329.9 L85.01 330.36 L85.98 331.28 L86.46 332.67 L86.46 333.59 L85.98 334.98 L85.01 335.9 L83.57 336.36 L82.13 336.36 L80.69 335.9 L80.2 335.44 L79.72 334.52 L79.72 334.05 L80.2 333.59 L80.69 334.05 L80.2 334.52 M83.57 329.9 L84.53 330.36 L85.5 331.28 L85.98 332.67 L85.98 333.59 L85.5 334.98 L84.53 335.9 L83.57 336.36 M80.69 326.66 L85.5 326.66 M80.69 327.12 L83.09 327.12 L85.5 326.66 M95.03 444.75 L95.99 444.28 L97.43 442.9 L97.43 452.6 M96.95 443.36 L96.95 452.6 M95.03 452.6 L99.36 452.6 M173.55 444.75 L174.51 444.28 L175.96 442.9 L175.96 452.6 M175.48 443.36 L175.48 452.6 M173.55 452.6 L177.88 452.6 M182.69 451.68 L182.21 452.14 L182.69 452.6 L183.17 452.14 L182.69 451.68 M187.02 444.75 L187.5 445.21 L187.02 445.67 L186.54 445.21 L186.54 444.75 L187.02 443.82 L187.5 443.36 L188.94 442.9 L190.87 442.9 L192.31 443.36 L192.79 443.82 L193.27 444.75 L193.27 445.67 L192.79 446.59 L191.35 447.52 L188.94 448.44 L187.98 448.9 L187.02 449.83 L186.54 451.21 L186.54 452.6 M190.87 442.9 L191.83 443.36 L192.31 443.82 L192.79 444.75 L192.79 445.67 L192.31 446.59 L190.87 447.52 L188.94 448.44 M186.54 451.68 L187.02 451.21 L187.98 451.21 L190.39 452.14 L191.83 452.14 L192.79 451.68 L193.27 451.21 M187.98 451.21 L190.39 452.6 L192.31 452.6 L192.79 452.14 L193.27 451.21 L193.27 450.29 M197.12 442.9 L196.16 447.52 M196.16 447.52 L197.12 446.59 L198.56 446.13 L200.01 446.13 L201.45 446.59 L202.41 447.52 L202.89 448.9 L202.89 449.83 L202.41 451.21 L201.45 452.14 L200.01 452.6 L198.56 452.6 L197.12 452.14 L196.64 451.68 L196.16 450.75 L196.16 450.29 L196.64 449.83 L197.12 450.29 L196.64 450.75 M200.01 446.13 L200.97 446.59 L201.93 447.52 L202.41 448.9 L202.41 449.83 L201.93 451.21 L200.97 452.14 L200.01 452.6 M197.12 442.9 L201.93 442.9 M197.12 443.36 L199.53 443.36 L201.93 442.9 M268.91 444.75 L269.87 444.28 L271.32 442.9 L271.32 452.6 M270.84 443.36 L270.84 452.6 M268.91 452.6 L273.24 452.6 M278.05 451.68 L277.57 452.14 L278.05 452.6 L278.53 452.14 L278.05 451.68 M282.86 442.9 L281.9 447.52 M281.9 447.52 L282.86 446.59 L284.3 446.13 L285.75 446.13 L287.19 446.59 L288.15 447.52 L288.63 448.9 L288.63 449.83 L288.15 451.21 L287.19 452.14 L285.75 452.6 L284.3 452.6 L282.86 452.14 L282.38 451.68 L281.9 450.75 L281.9 450.29 L282.38 449.83 L282.86 450.29 L282.38 450.75 M285.75 446.13 L286.71 446.59 L287.67 447.52 L288.15 448.9 L288.15 449.83 L287.67 451.21 L286.71 452.14 L285.75 452.6 M282.86 442.9 L287.67 442.9 M282.86 443.36 L285.27 443.36 L287.67 442.9 M354.65 444.75 L355.61 444.28 L357.06 442.9 L357.06 452.6 M356.58 443.36 L356.58 452.6 M354.65 452.6 L358.98 452.6 M363.79 451.68 L363.31 452.14 L363.79 452.6 L364.27 452.14 L363.79 451.68 M367.64 442.9 L367.64 445.67 M367.64 444.75 L368.12 443.82 L369.08 442.9 L370.04 442.9 L372.45 444.28 L373.41 444.28 L373.89 443.82 L374.37 442.9 M368.12 443.82 L369.08 443.36 L370.04 443.36 L372.45 444.28 M374.37 442.9 L374.37 444.28 L373.89 445.67 L371.97 447.98 L371.49 448.9 L371.01 450.29 L371.01 452.6 M373.89 445.67 L371.49 447.98 L371.01 448.9 L370.52 450.29 L370.52 452.6 M378.22 442.9 L377.26 447.52 M377.26 447.52 L378.22 446.59 L379.66 446.13 L381.11 446.13 L382.55 446.59 L383.51 447.52 L383.99 448.9 L383.99 449.83 L383.51 451.21 L382.55 452.14 L381.11 452.6 L379.66 452.6 L378.22 452.14 L377.74 451.68 L377.26 450.75 L377.26 450.29 L377.74 449.83 L378.22 450.29 L377.74 450.75 M381.11 446.13 L382.07 446.59 L383.03 447.52 L383.51 448.9 L383.51 449.83 L383.03 451.21 L382.07 452.14 L381.11 452.6 M378.22 442.9 L383.03 442.9 M378.22 443.36 L380.63 443.36 L383.03 442.9 M456.26 444.75 L456.75 445.21 L456.26 445.67 L455.78 445.21 L455.78 444.75 L456.26 443.82 L456.75 443.36 L458.19 442.9 L460.11 442.9 L461.56 443.36 L462.04 443.82 L462.52 444.75 L462.52 445.67 L462.04 446.59 L460.59 447.52 L458.19 448.44 L457.23 448.9 L456.26 449.83 L455.78 451.21 L455.78 452.6 M460.11 442.9 L461.07 443.36 L461.56 443.82 L462.04 444.75 L462.04 445.67 L461.56 446.59 L460.11 447.52 L458.19 448.44 M455.78 451.68 L456.26 451.21 L457.23 451.21 L459.63 452.14 L461.07 452.14 L462.04 451.68 L462.52 451.21 M457.23 451.21 L459.63 452.6 L461.56 452.6 L462.04 452.14 L462.52 451.21 L462.52 450.29 M276.24 464.21 L276.24 473.6 M276.89 464.21 L276.89 473.6 M276.89 468.23 L277.53 466.22 L278.82 464.88 L280.11 464.21 L282.05 464.21 L282.69 464.88 L282.69 465.55 L282.05 466.22 L281.4 465.55 L282.05 464.88 M274.31 464.21 L276.89 464.21 M274.31 473.6 L278.82 473.6 M2.56 105.76 L16.1 105.76 M2.56 105.15 L16.1 105.15 M6.43 101.47 L11.59 101.47 M2.56 107.6 L2.56 97.79 L6.43 97.79 L2.56 98.41 M9.01 105.15 L9.01 101.47 M16.1 107.6 L16.1 97.79 L12.23 97.79 L16.1 98.41 M15.93 90.02 L14.77 89.65 L17.1 89.65 L15.93 90.02 L15.16 90.76 L14.77 91.87 L14.77 92.99 L15.16 94.1 L15.93 94.84 L16.71 94.84 L17.48 94.47 L17.87 94.1 L18.26 93.36 L19.03 91.13 L19.42 90.39 L20.19 89.65 M16.71 94.84 L17.48 94.1 L17.87 93.36 L18.64 91.13 L19.03 90.39 L19.42 90.02 L20.19 89.65 L21.74 89.65 L22.51 90.39 L22.9 91.5 L22.9 92.62 L22.51 93.73 L21.74 94.47 L20.58 94.84 L22.9 94.84 L21.74 94.47 M14.77 86.68 L22.9 86.68 M14.77 86.31 L22.9 86.31 M14.77 87.8 L14.77 83.34 L15.16 82.23 L15.55 81.86 L16.32 81.49 L17.1 81.49 L17.87 81.86 L18.26 82.23 L18.64 83.34 L18.64 86.31 M14.77 83.34 L15.16 82.6 L15.55 82.23 L16.32 81.86 L17.1 81.86 L17.87 82.23 L18.26 82.6 L18.64 83.34 M22.9 87.8 L22.9 85.2 M18.64 84.46 L19.03 83.72 L19.42 83.34 L22.13 82.23 L22.51 81.86 L22.51 81.49 L22.13 81.12 M19.03 83.72 L19.8 83.34 L22.51 82.6 L22.9 82.23 L22.9 81.49 L22.13 81.12 L21.74 81.12 M22.16 237.03 L33.12 237.03 L35.05 237.67 L35.7 238.96 L35.7 240.25 L35.05 241.54 L33.77 242.19 L32.48 242.19 L31.83 241.54 L32.48 240.9 L33.12 241.54 M22.16 237.67 L33.12 237.67 L35.05 238.32 L35.7 238.96 M22.16 239.61 L22.16 235.09 M35.53 227.87 L34.37 227.5 L36.7 227.5 L35.53 227.87 L34.76 228.61 L34.37 229.72 L34.37 230.83 L34.76 231.95 L35.53 232.69 L36.31 232.69 L37.08 232.32 L37.47 231.95 L37.86 231.2 L38.63 228.98 L39.02 228.24 L39.79 227.5 M36.31 232.69 L37.08 231.95 L37.47 231.2 L38.24 228.98 L38.63 228.24 L39.02 227.87 L39.79 227.5 L41.34 227.5 L42.11 228.24 L42.5 229.35 L42.5 230.46 L42.11 231.58 L41.34 232.32 L40.18 232.69 L42.5 232.69 L41.34 232.32 M34.37 224.53 L42.5 224.53 M34.37 224.16 L42.5 224.16 M34.37 225.64 L34.37 221.19 L34.76 220.08 L35.15 219.71 L35.92 219.34 L36.7 219.34 L37.47 219.71 L37.86 220.08 L38.24 221.19 L38.24 224.16 M34.37 221.19 L34.76 220.45 L35.15 220.08 L35.92 219.71 L36.7 219.71 L37.47 220.08 L37.86 220.45 L38.24 221.19 M42.5 225.64 L42.5 223.05 M38.24 222.3 L38.63 221.56 L39.02 221.19 L41.73 220.08 L42.11 219.71 L42.11 219.34 L41.73 218.97 M38.63 221.56 L39.4 221.19 L42.11 220.45 L42.5 220.08 L42.5 219.34 L41.73 218.97 L41.34 218.97 M22.44 387.45 L21.19 388.1 L20.57 388.74 L19.94 390.03 L19.94 391.32 L20.57 393.25 L21.82 394.55 L23.69 395.19 L24.95 395.19 L26.82 394.55 L28.07 393.25 L28.7 391.32 L28.7 390.03 L28.07 388.1 L27.45 387.45 L26.2 386.81 L23.69 386.16 L20.57 386.16 L18.06 386.81 L16.81 387.45 L16.19 388.1 L15.56 390.03 L15.56 391.32 L16.19 393.25 L16.81 393.9 L16.81 393.25 L16.19 392.61 L15.56 391.32 M21.82 393.9 L23.07 394.55 L25.57 394.55 L26.82 393.9 M27.45 388.1 L26.2 387.45 L23.69 386.81 L20.57 386.81 L18.06 387.45 L16.81 388.1 M19.94 391.32 L20.57 392.61 L21.19 393.25 L23.07 393.9 L25.57 393.9 L27.45 393.25 L28.07 392.61 L28.7 391.32 M28.7 390.03 L28.07 388.74 L26.82 388.1 L24.32 387.45 L19.94 387.45 L17.44 388.1 L16.19 388.74 L15.56 390.03 M19.94 382.94 L19.94 381.65 L20.57 380.36 L21.82 379.71 L31.2 376.49 L32.45 375.84 L33.08 375.2 M19.94 381.65 L20.57 381 L21.82 380.36 L31.2 377.13 L32.45 376.49 L33.08 375.2 L33.08 373.91 M19.94 373.26 L21.19 373.91 L23.07 375.2 L29.95 381.65 L31.83 382.94 L33.08 383.58 M13.06 359.72 L33.08 371.32 M22.44 348.75 L21.19 349.39 L20.57 350.04 L19.94 351.33 L19.94 352.62 L20.57 354.56 L21.82 355.85 L23.69 356.49 L24.95 356.49 L26.82 355.85 L28.07 354.56 L28.7 352.62 L28.7 351.33 L28.07 349.39 L27.45 348.75 L26.2 348.11 L23.69 347.46 L20.57 347.46 L18.06 348.11 L16.81 348.75 L16.19 349.39 L15.56 351.33 L15.56 352.62 L16.19 354.56 L16.81 355.2 L16.81 354.56 L16.19 353.91 L15.56 352.62 M21.82 355.2 L23.07 355.85 L25.57 355.85 L26.82 355.2 M27.45 349.39 L26.2 348.75 L23.69 348.11 L20.57 348.11 L18.06 348.75 L16.81 349.39 M19.94 352.62 L20.57 353.91 L21.19 354.56 L23.07 355.2 L25.57 355.2 L27.45 354.56 L28.07 353.91 L28.7 352.62 M28.7 351.33 L28.07 350.04 L26.82 349.39 L24.32 348.75 L19.94 348.75 L17.44 349.39 L16.19 350.04 L15.56 351.33 M19.94 335.85 L33.08 335.85 M19.94 335.21 L33.08 335.21 M21.82 335.85 L20.57 337.14 L19.94 338.43 L19.94 339.72 L20.57 341.66 L21.82 342.95 L23.69 343.59 L24.95 343.59 L26.82 342.95 L28.07 341.66 L28.7 339.72 L28.7 338.43 L28.07 337.14 L26.82 335.85 M19.94 339.72 L20.57 341.01 L21.82 342.3 L23.69 342.95 L24.95 342.95 L26.82 342.3 L28.07 341.01 L28.7 339.72 M33.08 337.79 L33.08 333.27" stroke="#000" stroke-width="0.95" fill="none" stroke-linecap="round" stroke-linejoin="round"/>
</svg>
</body></html>
